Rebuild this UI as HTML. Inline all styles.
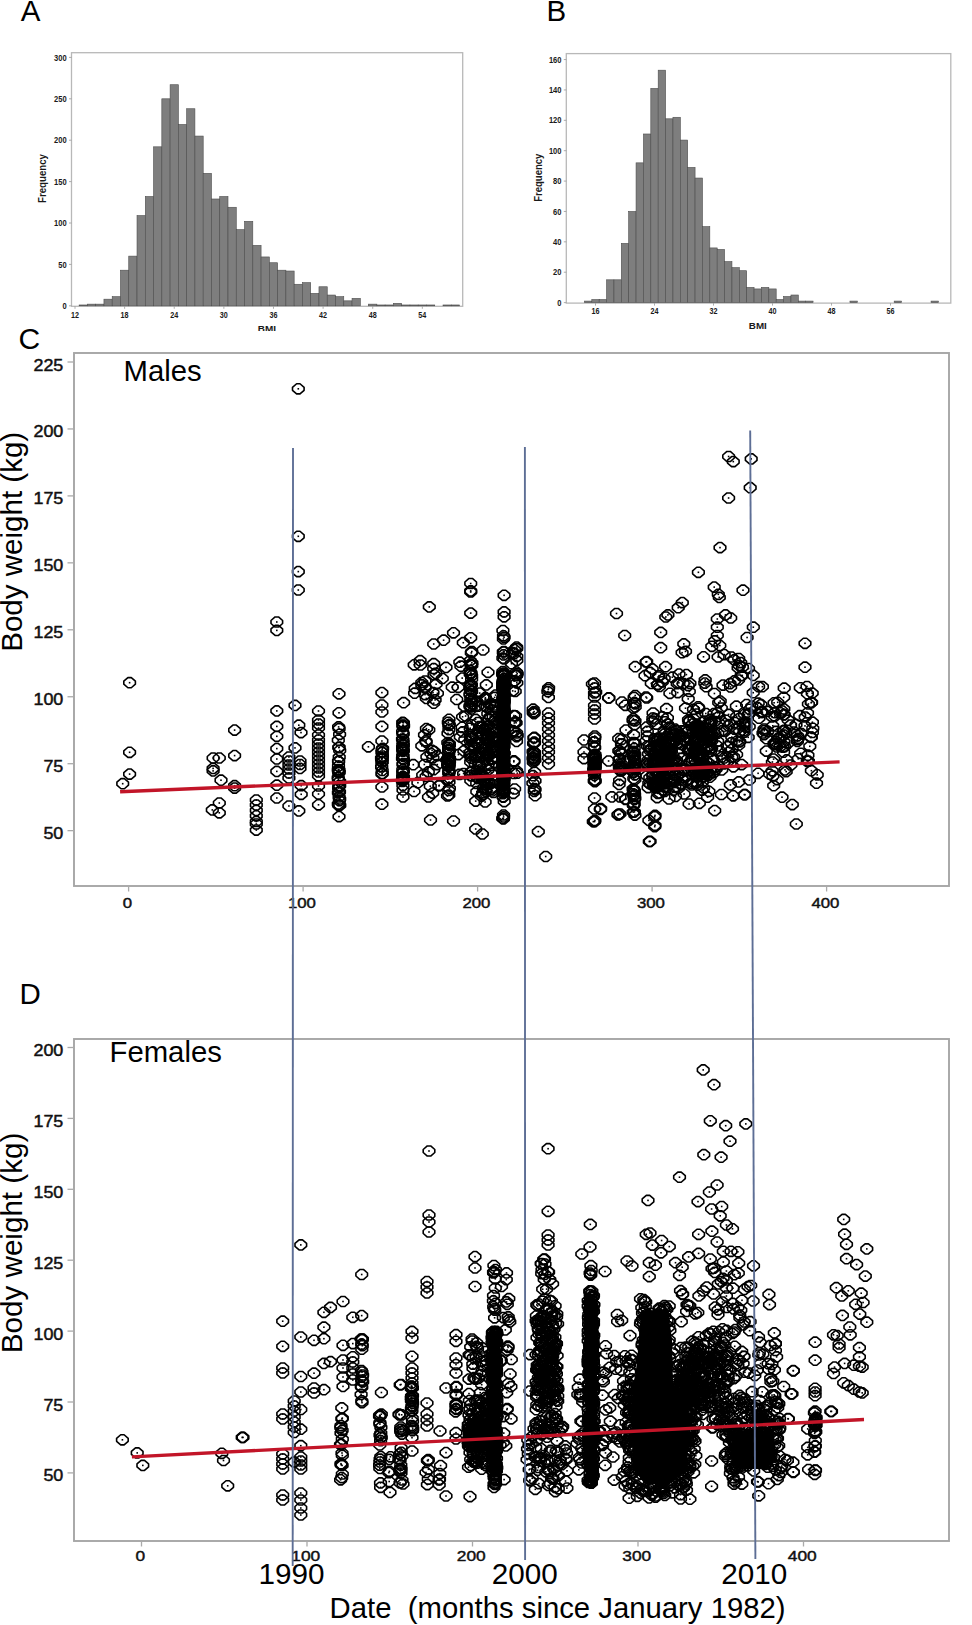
<!DOCTYPE html>
<html><head><meta charset="utf-8"><style>
html,body{margin:0;padding:0;background:#fff;}
body{width:972px;height:1625px;overflow:hidden;}
svg{display:block;font-family:"Liberation Sans", sans-serif;}
</style></head><body>
<svg width="972" height="1625" viewBox="0 0 972 1625">
<defs><marker id="mk" markerUnits="userSpaceOnUse" markerWidth="20" markerHeight="20" refX="10" refY="10" overflow="visible">
<path d="M8.3,4.95 L11.7,4.95 L15.8,8.5 L15.8,11.5 L11.7,15.05 L8.3,15.05 L4.2,11.5 L4.2,8.5Z" fill="none" stroke="#000" stroke-width="1.6" stroke-linejoin="round"/>
<rect x="9.2" y="9.2" width="1.6" height="1.6" fill="#000"/>
</marker><clipPath id="clipA"><rect x="0" y="0" width="486" height="331"/></clipPath></defs>
<rect x="71.5" y="52.7" width="391.2" height="253.60000000000002" fill="#fff" stroke="#b8b8b8" stroke-width="1.3"/>
<rect x="79.13" y="304.97" width="8.27" height="0.83" fill="#7e7e7e" stroke="#4d4d4d" stroke-width="0.6"/>
<rect x="87.40" y="304.14" width="8.27" height="1.66" fill="#7e7e7e" stroke="#4d4d4d" stroke-width="0.6"/>
<rect x="95.68" y="304.14" width="8.27" height="1.66" fill="#7e7e7e" stroke="#4d4d4d" stroke-width="0.6"/>
<rect x="103.94" y="299.18" width="8.27" height="6.62" fill="#7e7e7e" stroke="#4d4d4d" stroke-width="0.6"/>
<rect x="112.21" y="296.69" width="8.27" height="9.11" fill="#7e7e7e" stroke="#4d4d4d" stroke-width="0.6"/>
<rect x="120.49" y="270.20" width="8.27" height="35.60" fill="#7e7e7e" stroke="#4d4d4d" stroke-width="0.6"/>
<rect x="128.75" y="256.12" width="8.27" height="49.68" fill="#7e7e7e" stroke="#4d4d4d" stroke-width="0.6"/>
<rect x="137.02" y="215.55" width="8.27" height="90.25" fill="#7e7e7e" stroke="#4d4d4d" stroke-width="0.6"/>
<rect x="145.30" y="196.50" width="8.27" height="109.30" fill="#7e7e7e" stroke="#4d4d4d" stroke-width="0.6"/>
<rect x="153.56" y="146.82" width="8.27" height="158.98" fill="#7e7e7e" stroke="#4d4d4d" stroke-width="0.6"/>
<rect x="161.83" y="98.80" width="8.27" height="207.00" fill="#7e7e7e" stroke="#4d4d4d" stroke-width="0.6"/>
<rect x="170.11" y="84.72" width="8.27" height="221.08" fill="#7e7e7e" stroke="#4d4d4d" stroke-width="0.6"/>
<rect x="178.38" y="124.47" width="8.27" height="181.33" fill="#7e7e7e" stroke="#4d4d4d" stroke-width="0.6"/>
<rect x="186.64" y="108.74" width="8.27" height="197.06" fill="#7e7e7e" stroke="#4d4d4d" stroke-width="0.6"/>
<rect x="194.92" y="136.06" width="8.27" height="169.74" fill="#7e7e7e" stroke="#4d4d4d" stroke-width="0.6"/>
<rect x="203.19" y="173.32" width="8.27" height="132.48" fill="#7e7e7e" stroke="#4d4d4d" stroke-width="0.6"/>
<rect x="211.46" y="198.99" width="8.27" height="106.81" fill="#7e7e7e" stroke="#4d4d4d" stroke-width="0.6"/>
<rect x="219.72" y="196.50" width="8.27" height="109.30" fill="#7e7e7e" stroke="#4d4d4d" stroke-width="0.6"/>
<rect x="228.00" y="207.27" width="8.27" height="98.53" fill="#7e7e7e" stroke="#4d4d4d" stroke-width="0.6"/>
<rect x="236.26" y="229.62" width="8.27" height="76.18" fill="#7e7e7e" stroke="#4d4d4d" stroke-width="0.6"/>
<rect x="244.53" y="221.34" width="8.27" height="84.46" fill="#7e7e7e" stroke="#4d4d4d" stroke-width="0.6"/>
<rect x="252.81" y="245.36" width="8.27" height="60.44" fill="#7e7e7e" stroke="#4d4d4d" stroke-width="0.6"/>
<rect x="261.07" y="256.95" width="8.27" height="48.85" fill="#7e7e7e" stroke="#4d4d4d" stroke-width="0.6"/>
<rect x="269.35" y="262.74" width="8.27" height="43.06" fill="#7e7e7e" stroke="#4d4d4d" stroke-width="0.6"/>
<rect x="277.62" y="270.20" width="8.27" height="35.60" fill="#7e7e7e" stroke="#4d4d4d" stroke-width="0.6"/>
<rect x="285.88" y="271.02" width="8.27" height="34.78" fill="#7e7e7e" stroke="#4d4d4d" stroke-width="0.6"/>
<rect x="294.15" y="284.27" width="8.27" height="21.53" fill="#7e7e7e" stroke="#4d4d4d" stroke-width="0.6"/>
<rect x="302.43" y="282.62" width="8.27" height="23.18" fill="#7e7e7e" stroke="#4d4d4d" stroke-width="0.6"/>
<rect x="310.69" y="293.38" width="8.27" height="12.42" fill="#7e7e7e" stroke="#4d4d4d" stroke-width="0.6"/>
<rect x="318.97" y="286.76" width="8.27" height="19.04" fill="#7e7e7e" stroke="#4d4d4d" stroke-width="0.6"/>
<rect x="327.24" y="295.04" width="8.27" height="10.76" fill="#7e7e7e" stroke="#4d4d4d" stroke-width="0.6"/>
<rect x="335.50" y="296.69" width="8.27" height="9.11" fill="#7e7e7e" stroke="#4d4d4d" stroke-width="0.6"/>
<rect x="343.77" y="300.83" width="8.27" height="4.97" fill="#7e7e7e" stroke="#4d4d4d" stroke-width="0.6"/>
<rect x="352.05" y="298.35" width="8.27" height="7.45" fill="#7e7e7e" stroke="#4d4d4d" stroke-width="0.6"/>
<rect x="368.58" y="304.14" width="8.27" height="1.66" fill="#7e7e7e" stroke="#4d4d4d" stroke-width="0.6"/>
<rect x="376.86" y="304.97" width="8.27" height="0.83" fill="#7e7e7e" stroke="#4d4d4d" stroke-width="0.6"/>
<rect x="385.12" y="304.97" width="8.27" height="0.83" fill="#7e7e7e" stroke="#4d4d4d" stroke-width="0.6"/>
<rect x="393.39" y="303.32" width="8.27" height="2.48" fill="#7e7e7e" stroke="#4d4d4d" stroke-width="0.6"/>
<rect x="401.66" y="304.97" width="8.27" height="0.83" fill="#7e7e7e" stroke="#4d4d4d" stroke-width="0.6"/>
<rect x="409.94" y="304.97" width="8.27" height="0.83" fill="#7e7e7e" stroke="#4d4d4d" stroke-width="0.6"/>
<rect x="418.20" y="304.97" width="8.27" height="0.83" fill="#7e7e7e" stroke="#4d4d4d" stroke-width="0.6"/>
<rect x="426.47" y="304.97" width="8.27" height="0.83" fill="#7e7e7e" stroke="#4d4d4d" stroke-width="0.6"/>
<rect x="443.01" y="304.97" width="8.27" height="0.83" fill="#7e7e7e" stroke="#4d4d4d" stroke-width="0.6"/>
<rect x="451.28" y="304.97" width="8.27" height="0.83" fill="#7e7e7e" stroke="#4d4d4d" stroke-width="0.6"/>
<line x1="69.0" y1="305.80" x2="71.5" y2="305.80" stroke="#999" stroke-width="0.8"/>
<text x="66.7" y="308.90000000000003" font-size="8.4" text-anchor="end" font-weight="bold" fill="#1a1a1a" textLength="4.2" lengthAdjust="spacingAndGlyphs">0</text>
<line x1="69.0" y1="264.40" x2="71.5" y2="264.40" stroke="#999" stroke-width="0.8"/>
<text x="66.7" y="267.50000000000006" font-size="8.4" text-anchor="end" font-weight="bold" fill="#1a1a1a" textLength="8.4" lengthAdjust="spacingAndGlyphs">50</text>
<line x1="69.0" y1="223.00" x2="71.5" y2="223.00" stroke="#999" stroke-width="0.8"/>
<text x="66.7" y="226.1" font-size="8.4" text-anchor="end" font-weight="bold" fill="#1a1a1a" textLength="12.6" lengthAdjust="spacingAndGlyphs">100</text>
<line x1="69.0" y1="181.60" x2="71.5" y2="181.60" stroke="#999" stroke-width="0.8"/>
<text x="66.7" y="184.70000000000002" font-size="8.4" text-anchor="end" font-weight="bold" fill="#1a1a1a" textLength="12.6" lengthAdjust="spacingAndGlyphs">150</text>
<line x1="69.0" y1="140.20" x2="71.5" y2="140.20" stroke="#999" stroke-width="0.8"/>
<text x="66.7" y="143.3" font-size="8.4" text-anchor="end" font-weight="bold" fill="#1a1a1a" textLength="12.6" lengthAdjust="spacingAndGlyphs">200</text>
<line x1="69.0" y1="98.80" x2="71.5" y2="98.80" stroke="#999" stroke-width="0.8"/>
<text x="66.7" y="101.9" font-size="8.4" text-anchor="end" font-weight="bold" fill="#1a1a1a" textLength="12.6" lengthAdjust="spacingAndGlyphs">250</text>
<line x1="69.0" y1="57.40" x2="71.5" y2="57.40" stroke="#999" stroke-width="0.8"/>
<text x="66.7" y="60.500000000000036" font-size="8.4" text-anchor="end" font-weight="bold" fill="#1a1a1a" textLength="12.6" lengthAdjust="spacingAndGlyphs">300</text>
<line x1="75.00" y1="306.3" x2="75.00" y2="308.8" stroke="#999" stroke-width="0.8"/>
<text x="75.0" y="317.5" font-size="8.4" text-anchor="middle" font-weight="bold" fill="#1a1a1a" textLength="8.0" lengthAdjust="spacingAndGlyphs">12</text>
<line x1="124.62" y1="306.3" x2="124.62" y2="308.8" stroke="#999" stroke-width="0.8"/>
<text x="124.62" y="317.5" font-size="8.4" text-anchor="middle" font-weight="bold" fill="#1a1a1a" textLength="8.0" lengthAdjust="spacingAndGlyphs">18</text>
<line x1="174.24" y1="306.3" x2="174.24" y2="308.8" stroke="#999" stroke-width="0.8"/>
<text x="174.24" y="317.5" font-size="8.4" text-anchor="middle" font-weight="bold" fill="#1a1a1a" textLength="8.0" lengthAdjust="spacingAndGlyphs">24</text>
<line x1="223.86" y1="306.3" x2="223.86" y2="308.8" stroke="#999" stroke-width="0.8"/>
<text x="223.85999999999999" y="317.5" font-size="8.4" text-anchor="middle" font-weight="bold" fill="#1a1a1a" textLength="8.0" lengthAdjust="spacingAndGlyphs">30</text>
<line x1="273.48" y1="306.3" x2="273.48" y2="308.8" stroke="#999" stroke-width="0.8"/>
<text x="273.48" y="317.5" font-size="8.4" text-anchor="middle" font-weight="bold" fill="#1a1a1a" textLength="8.0" lengthAdjust="spacingAndGlyphs">36</text>
<line x1="323.10" y1="306.3" x2="323.10" y2="308.8" stroke="#999" stroke-width="0.8"/>
<text x="323.1" y="317.5" font-size="8.4" text-anchor="middle" font-weight="bold" fill="#1a1a1a" textLength="8.0" lengthAdjust="spacingAndGlyphs">42</text>
<line x1="372.72" y1="306.3" x2="372.72" y2="308.8" stroke="#999" stroke-width="0.8"/>
<text x="372.71999999999997" y="317.5" font-size="8.4" text-anchor="middle" font-weight="bold" fill="#1a1a1a" textLength="8.0" lengthAdjust="spacingAndGlyphs">48</text>
<line x1="422.34" y1="306.3" x2="422.34" y2="308.8" stroke="#999" stroke-width="0.8"/>
<text x="422.34" y="317.5" font-size="8.4" text-anchor="middle" font-weight="bold" fill="#1a1a1a" textLength="8.0" lengthAdjust="spacingAndGlyphs">54</text>
<rect x="566.3" y="53.6" width="384.5" height="249.50000000000003" fill="#fff" stroke="#b8b8b8" stroke-width="1.3"/>
<rect x="584.44" y="301.08" width="7.38" height="1.52" fill="#7e7e7e" stroke="#4d4d4d" stroke-width="0.6"/>
<rect x="591.81" y="299.56" width="7.38" height="3.04" fill="#7e7e7e" stroke="#4d4d4d" stroke-width="0.6"/>
<rect x="599.19" y="299.56" width="7.38" height="3.04" fill="#7e7e7e" stroke="#4d4d4d" stroke-width="0.6"/>
<rect x="606.56" y="279.81" width="7.38" height="22.79" fill="#7e7e7e" stroke="#4d4d4d" stroke-width="0.6"/>
<rect x="613.94" y="279.81" width="7.38" height="22.79" fill="#7e7e7e" stroke="#4d4d4d" stroke-width="0.6"/>
<rect x="621.31" y="243.36" width="7.38" height="59.24" fill="#7e7e7e" stroke="#4d4d4d" stroke-width="0.6"/>
<rect x="628.69" y="211.46" width="7.38" height="91.14" fill="#7e7e7e" stroke="#4d4d4d" stroke-width="0.6"/>
<rect x="636.06" y="162.85" width="7.38" height="139.75" fill="#7e7e7e" stroke="#4d4d4d" stroke-width="0.6"/>
<rect x="643.44" y="133.99" width="7.38" height="168.61" fill="#7e7e7e" stroke="#4d4d4d" stroke-width="0.6"/>
<rect x="650.81" y="88.42" width="7.38" height="214.18" fill="#7e7e7e" stroke="#4d4d4d" stroke-width="0.6"/>
<rect x="658.19" y="70.19" width="7.38" height="232.41" fill="#7e7e7e" stroke="#4d4d4d" stroke-width="0.6"/>
<rect x="665.56" y="118.80" width="7.38" height="183.80" fill="#7e7e7e" stroke="#4d4d4d" stroke-width="0.6"/>
<rect x="672.94" y="117.28" width="7.38" height="185.32" fill="#7e7e7e" stroke="#4d4d4d" stroke-width="0.6"/>
<rect x="680.31" y="140.07" width="7.38" height="162.53" fill="#7e7e7e" stroke="#4d4d4d" stroke-width="0.6"/>
<rect x="687.69" y="167.41" width="7.38" height="135.19" fill="#7e7e7e" stroke="#4d4d4d" stroke-width="0.6"/>
<rect x="695.06" y="178.04" width="7.38" height="124.56" fill="#7e7e7e" stroke="#4d4d4d" stroke-width="0.6"/>
<rect x="702.44" y="226.65" width="7.38" height="75.95" fill="#7e7e7e" stroke="#4d4d4d" stroke-width="0.6"/>
<rect x="709.81" y="247.92" width="7.38" height="54.68" fill="#7e7e7e" stroke="#4d4d4d" stroke-width="0.6"/>
<rect x="717.19" y="249.44" width="7.38" height="53.16" fill="#7e7e7e" stroke="#4d4d4d" stroke-width="0.6"/>
<rect x="724.56" y="261.59" width="7.38" height="41.01" fill="#7e7e7e" stroke="#4d4d4d" stroke-width="0.6"/>
<rect x="731.94" y="267.66" width="7.38" height="34.94" fill="#7e7e7e" stroke="#4d4d4d" stroke-width="0.6"/>
<rect x="739.31" y="270.70" width="7.38" height="31.90" fill="#7e7e7e" stroke="#4d4d4d" stroke-width="0.6"/>
<rect x="746.69" y="287.41" width="7.38" height="15.19" fill="#7e7e7e" stroke="#4d4d4d" stroke-width="0.6"/>
<rect x="754.06" y="288.93" width="7.38" height="13.67" fill="#7e7e7e" stroke="#4d4d4d" stroke-width="0.6"/>
<rect x="761.44" y="287.41" width="7.38" height="15.19" fill="#7e7e7e" stroke="#4d4d4d" stroke-width="0.6"/>
<rect x="768.81" y="288.93" width="7.38" height="13.67" fill="#7e7e7e" stroke="#4d4d4d" stroke-width="0.6"/>
<rect x="776.19" y="299.56" width="7.38" height="3.04" fill="#7e7e7e" stroke="#4d4d4d" stroke-width="0.6"/>
<rect x="783.56" y="296.52" width="7.38" height="6.08" fill="#7e7e7e" stroke="#4d4d4d" stroke-width="0.6"/>
<rect x="790.94" y="295.00" width="7.38" height="7.59" fill="#7e7e7e" stroke="#4d4d4d" stroke-width="0.6"/>
<rect x="798.31" y="301.08" width="7.38" height="1.52" fill="#7e7e7e" stroke="#4d4d4d" stroke-width="0.6"/>
<rect x="805.69" y="301.08" width="7.38" height="1.52" fill="#7e7e7e" stroke="#4d4d4d" stroke-width="0.6"/>
<rect x="849.94" y="301.08" width="7.38" height="1.52" fill="#7e7e7e" stroke="#4d4d4d" stroke-width="0.6"/>
<rect x="894.19" y="301.08" width="7.38" height="1.52" fill="#7e7e7e" stroke="#4d4d4d" stroke-width="0.6"/>
<rect x="931.06" y="301.08" width="7.38" height="1.52" fill="#7e7e7e" stroke="#4d4d4d" stroke-width="0.6"/>
<line x1="563.8" y1="302.60" x2="566.3" y2="302.60" stroke="#999" stroke-width="0.8"/>
<text x="561.5" y="305.70000000000005" font-size="8.4" text-anchor="end" font-weight="bold" fill="#1a1a1a" textLength="4.2" lengthAdjust="spacingAndGlyphs">0</text>
<line x1="563.8" y1="272.22" x2="566.3" y2="272.22" stroke="#999" stroke-width="0.8"/>
<text x="561.5" y="275.32000000000005" font-size="8.4" text-anchor="end" font-weight="bold" fill="#1a1a1a" textLength="8.4" lengthAdjust="spacingAndGlyphs">20</text>
<line x1="563.8" y1="241.84" x2="566.3" y2="241.84" stroke="#999" stroke-width="0.8"/>
<text x="561.5" y="244.94000000000003" font-size="8.4" text-anchor="end" font-weight="bold" fill="#1a1a1a" textLength="8.4" lengthAdjust="spacingAndGlyphs">40</text>
<line x1="563.8" y1="211.46" x2="566.3" y2="211.46" stroke="#999" stroke-width="0.8"/>
<text x="561.5" y="214.56000000000003" font-size="8.4" text-anchor="end" font-weight="bold" fill="#1a1a1a" textLength="8.4" lengthAdjust="spacingAndGlyphs">60</text>
<line x1="563.8" y1="181.08" x2="566.3" y2="181.08" stroke="#999" stroke-width="0.8"/>
<text x="561.5" y="184.18000000000004" font-size="8.4" text-anchor="end" font-weight="bold" fill="#1a1a1a" textLength="8.4" lengthAdjust="spacingAndGlyphs">80</text>
<line x1="563.8" y1="150.70" x2="566.3" y2="150.70" stroke="#999" stroke-width="0.8"/>
<text x="561.5" y="153.80000000000004" font-size="8.4" text-anchor="end" font-weight="bold" fill="#1a1a1a" textLength="12.6" lengthAdjust="spacingAndGlyphs">100</text>
<line x1="563.8" y1="120.32" x2="566.3" y2="120.32" stroke="#999" stroke-width="0.8"/>
<text x="561.5" y="123.42000000000002" font-size="8.4" text-anchor="end" font-weight="bold" fill="#1a1a1a" textLength="12.6" lengthAdjust="spacingAndGlyphs">120</text>
<line x1="563.8" y1="89.94" x2="566.3" y2="89.94" stroke="#999" stroke-width="0.8"/>
<text x="561.5" y="93.04000000000002" font-size="8.4" text-anchor="end" font-weight="bold" fill="#1a1a1a" textLength="12.6" lengthAdjust="spacingAndGlyphs">140</text>
<line x1="563.8" y1="59.56" x2="566.3" y2="59.56" stroke="#999" stroke-width="0.8"/>
<text x="561.5" y="62.66000000000003" font-size="8.4" text-anchor="end" font-weight="bold" fill="#1a1a1a" textLength="12.6" lengthAdjust="spacingAndGlyphs">160</text>
<line x1="595.50" y1="303.1" x2="595.50" y2="305.6" stroke="#999" stroke-width="0.8"/>
<text x="595.5" y="314.3" font-size="8.4" text-anchor="middle" font-weight="bold" fill="#1a1a1a" textLength="8.0" lengthAdjust="spacingAndGlyphs">16</text>
<line x1="654.50" y1="303.1" x2="654.50" y2="305.6" stroke="#999" stroke-width="0.8"/>
<text x="654.5" y="314.3" font-size="8.4" text-anchor="middle" font-weight="bold" fill="#1a1a1a" textLength="8.0" lengthAdjust="spacingAndGlyphs">24</text>
<line x1="713.50" y1="303.1" x2="713.50" y2="305.6" stroke="#999" stroke-width="0.8"/>
<text x="713.5" y="314.3" font-size="8.4" text-anchor="middle" font-weight="bold" fill="#1a1a1a" textLength="8.0" lengthAdjust="spacingAndGlyphs">32</text>
<line x1="772.50" y1="303.1" x2="772.50" y2="305.6" stroke="#999" stroke-width="0.8"/>
<text x="772.5" y="314.3" font-size="8.4" text-anchor="middle" font-weight="bold" fill="#1a1a1a" textLength="8.0" lengthAdjust="spacingAndGlyphs">40</text>
<line x1="831.50" y1="303.1" x2="831.50" y2="305.6" stroke="#999" stroke-width="0.8"/>
<text x="831.5" y="314.3" font-size="8.4" text-anchor="middle" font-weight="bold" fill="#1a1a1a" textLength="8.0" lengthAdjust="spacingAndGlyphs">48</text>
<line x1="890.50" y1="303.1" x2="890.50" y2="305.6" stroke="#999" stroke-width="0.8"/>
<text x="890.5" y="314.3" font-size="8.4" text-anchor="middle" font-weight="bold" fill="#1a1a1a" textLength="8.0" lengthAdjust="spacingAndGlyphs">56</text>
<text x="0" y="0" font-size="10.2" text-anchor="middle" font-weight="bold" fill="#1a1a1a" transform="translate(45.9,178.5) rotate(-90)" textLength="49" lengthAdjust="spacingAndGlyphs">Frequency</text>
<text x="0" y="0" font-size="10.2" text-anchor="middle" font-weight="bold" fill="#1a1a1a" transform="translate(542.2,177.7) rotate(-90)" textLength="48" lengthAdjust="spacingAndGlyphs">Frequency</text>
<text x="757.8" y="328.8" font-size="8.5" text-anchor="middle" font-weight="bold" fill="#1a1a1a" textLength="18" lengthAdjust="spacingAndGlyphs">BMI</text>
<text x="266.9" y="331.6" font-size="8.5" text-anchor="middle" font-weight="bold" fill="#1a1a1a" textLength="18.3" lengthAdjust="spacingAndGlyphs" clip-path="url(#clipA)">BMI</text>
<rect x="74" y="353" width="875" height="533" fill="#fff" stroke="#a6a6a6" stroke-width="1.9"/>
<line x1="67.5" y1="830.65" x2="74" y2="830.65" stroke="#aaa" stroke-width="1.3"/>
<text transform="translate(63.3,839.15) scale(1.12,1)" font-size="16" text-anchor="end" fill="#111" stroke="#111" stroke-width="0.45">50</text>
<line x1="67.5" y1="763.70" x2="74" y2="763.70" stroke="#aaa" stroke-width="1.3"/>
<text transform="translate(63.3,772.20) scale(1.12,1)" font-size="16" text-anchor="end" fill="#111" stroke="#111" stroke-width="0.45">75</text>
<line x1="67.5" y1="696.75" x2="74" y2="696.75" stroke="#aaa" stroke-width="1.3"/>
<text transform="translate(63.3,705.25) scale(1.12,1)" font-size="16" text-anchor="end" fill="#111" stroke="#111" stroke-width="0.45">100</text>
<line x1="67.5" y1="629.80" x2="74" y2="629.80" stroke="#aaa" stroke-width="1.3"/>
<text transform="translate(63.3,638.30) scale(1.12,1)" font-size="16" text-anchor="end" fill="#111" stroke="#111" stroke-width="0.45">125</text>
<line x1="67.5" y1="562.85" x2="74" y2="562.85" stroke="#aaa" stroke-width="1.3"/>
<text transform="translate(63.3,571.35) scale(1.12,1)" font-size="16" text-anchor="end" fill="#111" stroke="#111" stroke-width="0.45">150</text>
<line x1="67.5" y1="495.90" x2="74" y2="495.90" stroke="#aaa" stroke-width="1.3"/>
<text transform="translate(63.3,504.40) scale(1.12,1)" font-size="16" text-anchor="end" fill="#111" stroke="#111" stroke-width="0.45">175</text>
<line x1="67.5" y1="428.95" x2="74" y2="428.95" stroke="#aaa" stroke-width="1.3"/>
<text transform="translate(63.3,437.45) scale(1.12,1)" font-size="16" text-anchor="end" fill="#111" stroke="#111" stroke-width="0.45">200</text>
<line x1="67.5" y1="362.00" x2="74" y2="362.00" stroke="#aaa" stroke-width="1.3"/>
<text transform="translate(63.3,370.50) scale(1.12,1)" font-size="16" text-anchor="end" fill="#111" stroke="#111" stroke-width="0.45">225</text>
<line x1="128.60" y1="886" x2="128.60" y2="891.5" stroke="#aaa" stroke-width="1.3"/>
<text transform="translate(127.40,907.8) scale(1.12,1)" font-size="15" text-anchor="middle" fill="#111" stroke="#111" stroke-width="0.45">0</text>
<line x1="303.10" y1="886" x2="303.10" y2="891.5" stroke="#aaa" stroke-width="1.3"/>
<text transform="translate(301.90,907.8) scale(1.12,1)" font-size="15" text-anchor="middle" fill="#111" stroke="#111" stroke-width="0.45">100</text>
<line x1="477.60" y1="886" x2="477.60" y2="891.5" stroke="#aaa" stroke-width="1.3"/>
<text transform="translate(476.40,907.8) scale(1.12,1)" font-size="15" text-anchor="middle" fill="#111" stroke="#111" stroke-width="0.45">200</text>
<line x1="652.10" y1="886" x2="652.10" y2="891.5" stroke="#aaa" stroke-width="1.3"/>
<text transform="translate(650.90,907.8) scale(1.12,1)" font-size="15" text-anchor="middle" fill="#111" stroke="#111" stroke-width="0.45">300</text>
<line x1="826.60" y1="886" x2="826.60" y2="891.5" stroke="#aaa" stroke-width="1.3"/>
<text transform="translate(825.40,907.8) scale(1.12,1)" font-size="15" text-anchor="middle" fill="#111" stroke="#111" stroke-width="0.45">400</text>
<rect x="74" y="1039" width="875" height="502" fill="#fff" stroke="#a6a6a6" stroke-width="1.9"/>
<line x1="67.5" y1="1472.90" x2="74" y2="1472.90" stroke="#aaa" stroke-width="1.3"/>
<text transform="translate(63.3,1481.40) scale(1.12,1)" font-size="16" text-anchor="end" fill="#111" stroke="#111" stroke-width="0.45">50</text>
<line x1="67.5" y1="1402.00" x2="74" y2="1402.00" stroke="#aaa" stroke-width="1.3"/>
<text transform="translate(63.3,1410.50) scale(1.12,1)" font-size="16" text-anchor="end" fill="#111" stroke="#111" stroke-width="0.45">75</text>
<line x1="67.5" y1="1331.10" x2="74" y2="1331.10" stroke="#aaa" stroke-width="1.3"/>
<text transform="translate(63.3,1339.60) scale(1.12,1)" font-size="16" text-anchor="end" fill="#111" stroke="#111" stroke-width="0.45">100</text>
<line x1="67.5" y1="1260.20" x2="74" y2="1260.20" stroke="#aaa" stroke-width="1.3"/>
<text transform="translate(63.3,1268.70) scale(1.12,1)" font-size="16" text-anchor="end" fill="#111" stroke="#111" stroke-width="0.45">125</text>
<line x1="67.5" y1="1189.30" x2="74" y2="1189.30" stroke="#aaa" stroke-width="1.3"/>
<text transform="translate(63.3,1197.80) scale(1.12,1)" font-size="16" text-anchor="end" fill="#111" stroke="#111" stroke-width="0.45">150</text>
<line x1="67.5" y1="1118.40" x2="74" y2="1118.40" stroke="#aaa" stroke-width="1.3"/>
<text transform="translate(63.3,1126.90) scale(1.12,1)" font-size="16" text-anchor="end" fill="#111" stroke="#111" stroke-width="0.45">175</text>
<line x1="67.5" y1="1047.50" x2="74" y2="1047.50" stroke="#aaa" stroke-width="1.3"/>
<text transform="translate(63.3,1056.00) scale(1.12,1)" font-size="16" text-anchor="end" fill="#111" stroke="#111" stroke-width="0.45">200</text>
<line x1="141.50" y1="1541" x2="141.50" y2="1546.5" stroke="#aaa" stroke-width="1.3"/>
<text transform="translate(140.30,1560.8) scale(1.12,1)" font-size="15.5" text-anchor="middle" fill="#111" stroke="#111" stroke-width="0.45">0</text>
<line x1="307.00" y1="1541" x2="307.00" y2="1546.5" stroke="#aaa" stroke-width="1.3"/>
<text transform="translate(305.80,1560.8) scale(1.12,1)" font-size="15.5" text-anchor="middle" fill="#111" stroke="#111" stroke-width="0.45">100</text>
<line x1="472.50" y1="1541" x2="472.50" y2="1546.5" stroke="#aaa" stroke-width="1.3"/>
<text transform="translate(471.30,1560.8) scale(1.12,1)" font-size="15.5" text-anchor="middle" fill="#111" stroke="#111" stroke-width="0.45">200</text>
<line x1="638.00" y1="1541" x2="638.00" y2="1546.5" stroke="#aaa" stroke-width="1.3"/>
<text transform="translate(636.80,1560.8) scale(1.12,1)" font-size="15.5" text-anchor="middle" fill="#111" stroke="#111" stroke-width="0.45">300</text>
<line x1="803.50" y1="1541" x2="803.50" y2="1546.5" stroke="#aaa" stroke-width="1.3"/>
<text transform="translate(802.30,1560.8) scale(1.12,1)" font-size="15.5" text-anchor="middle" fill="#111" stroke="#111" stroke-width="0.45">400</text>
<rect x="498" y="676" width="11" height="114" rx="4" fill="#000"/>
<rect x="586" y="1298" width="11" height="184" rx="4" fill="#000"/>
<rect x="489" y="1333" width="11" height="135" rx="4" fill="#000"/>
<path d="M642,1312 L667,1310 L671,1340 L672,1385 L685,1396 L688,1430 L686,1470 L668,1484 L645,1483 L634,1468 L632,1420 L635,1390 L639,1350Z" fill="#000" stroke="#000" stroke-width="2" stroke-linejoin="round"/>
<path d="M733,1434 L752,1429 L773,1434 L775,1457 L767,1468 L739,1468 L731,1457Z" fill="#000" stroke="#000" stroke-width="2" stroke-linejoin="round"/>
<path d="M129.6 682.7M129.6 752.3M129.6 774.1M122.7 783.7M213.1 758.0M219.3 758.0M213.1 768.4M213.1 770.9M221.0 780.2M234.6 730.1M234.6 755.6M234.6 785.7M234.6 788.1M219.3 803.0M212.3 809.9M219.3 812.8M256.3 800.0M256.3 805.0M256.3 810.4M256.3 815.8M256.3 821.5M256.3 824.0M256.3 830.1M276.8 622.0M276.8 630.4M276.8 710.9M276.8 726.4M276.8 736.3M276.8 748.6M276.8 759.0M276.8 771.4M276.8 785.2M276.8 798.0M298.3 388.8M298.3 536.3M298.3 571.6M298.3 590.0M295.0 705.4M295.0 747.9M298.8 725.2M301.0 732.6M288.9 757.0M288.9 761.0M288.9 765.0M288.9 769.0M288.9 773.0M288.9 778.0M300.0 761.0M300.0 764.5M300.0 768.4M288.9 806.0M298.8 810.9M301.2 785.7M301.2 794.3M318.5 711.0M318.5 720.0M318.5 724.0M318.5 728.0M318.5 735.0M318.5 740.0M318.5 744.0M318.5 748.0M318.5 752.0M318.5 756.0M318.5 760.0M318.5 764.0M318.5 768.0M318.5 772.0M318.5 776.0M318.5 786.0M318.5 794.0M318.5 804.8M339.0 693.8M339.0 712.8M338.6 761.6M338.8 747.6M338.7 786.2M339.7 799.0M339.2 757.2M338.7 805.5M339.7 781.4M339.6 734.3M339.4 800.7M338.2 777.5M338.7 772.8M338.4 779.3M338.5 766.1M339.5 791.8M339.1 728.7M339.2 772.1M338.3 769.7M338.6 788.0M339.0 769.9M338.5 761.1M338.5 771.2M338.3 740.2M339.7 785.6M339.1 796.9M339.7 750.5M339.8 805.3M338.4 792.7M338.3 804.1M339.1 747.2M338.6 726.9M339.0 816.6M368.4 746.8M381.9 692.6M381.9 705.0M381.9 712.0M381.9 726.4M381.9 741.0M381.9 787.0M381.9 804.2M382.2 770.5M382.1 758.8M382.1 761.9M381.7 759.2M381.6 767.0M382.1 758.0M382.0 762.2M382.1 749.5M382.4 756.0M382.0 774.1M382.2 752.2M381.6 766.5M382.2 773.4M382.6 748.4M381.5 758.0M382.1 752.4M403.6 702.7M403.0 790.0M403.0 797.0M402.8 780.9M402.7 748.7M403.5 759.5M403.1 726.6M403.6 725.7M402.5 781.4M403.1 734.1M402.6 777.4M403.1 751.1M403.1 756.1M403.3 745.4M402.4 780.4M402.6 731.7M403.0 744.5M402.7 772.7M403.4 763.5M403.0 725.2M402.5 739.0M403.4 722.8M403.1 725.5M402.5 758.6M403.2 780.0M403.0 733.5M403.0 778.8M403.1 742.3M402.6 776.7M403.5 776.9M402.7 779.4M402.9 764.3M402.7 777.8M402.9 785.5M403.0 739.9M402.7 722.4M402.7 755.5M402.6 747.3M402.9 749.9M402.8 769.7M402.6 747.8M403.4 771.3M403.2 750.6M429.3 606.9M433.7 644.0M443.6 640.2M420.1 660.7M433.7 663.7M433.7 668.6M446.0 667.4M425.0 681.0M425.0 688.0M442.3 678.5M415.2 688.4M425.0 694.6M437.4 693.3M433.7 703.2M430.5 820.0M453.5 821.0M475.7 829.0M482.3 834.0M452.2 687.2M460.9 666.2M488.0 672.3M483.0 650.0M453.5 632.8M463.3 642.7M514.0 681.0M512.7 652.6M511.5 663.7M512.7 690.9M414.2 664.8M420.4 665.0M433.0 692.6M434.0 674.7M421.8 682.5M421.8 684.9M435.8 673.4M425.1 686.9M436.1 684.2M435.1 699.9M426.3 698.4M414.6 693.2M421.8 745.8M432.1 750.4M425.8 740.8M422.7 775.0M413.3 764.7M426.4 728.6M437.3 764.6M428.5 797.0M426.2 742.1M428.8 729.8M426.9 756.8M432.7 793.1M432.9 757.8M430.9 753.5M439.0 785.9M424.3 764.5M430.3 786.2M439.2 785.3M417.9 782.7M426.1 776.4M414.0 791.5M437.1 755.6M434.3 751.6M433.7 769.7M428.3 771.9M424.5 734.9M448.9 760.3M448.8 770.0M449.5 761.4M448.2 766.4M447.5 759.2M448.6 750.4M449.3 761.9M448.6 747.4M449.4 744.9M449.1 765.5M449.0 744.4M448.8 772.7M449.1 764.0M449.1 771.7M447.9 758.6M449.4 744.9M449.3 743.7M447.6 764.5M448.2 758.5M447.8 742.7M448.9 766.2M449.3 750.5M449.5 758.1M448.8 758.7M448.9 749.5M448.8 753.1M448.0 733.4M448.9 729.6M448.3 722.3M448.8 725.4M449.3 724.7M449.0 719.3M448.7 790.5M449.4 788.3M448.8 773.1M447.8 779.2M449.0 782.0M448.8 795.1M447.5 796.0M449.0 777.7M462.6 731.9M460.3 736.9M463.9 750.9M465.6 716.0M462.2 678.1M462.6 716.8M458.2 687.3M459.4 774.4M462.1 727.3M459.8 662.2M464.8 739.7M464.4 706.4M456.7 699.5M463.6 773.6M458.4 754.6M470.7 583.5M470.7 590.9M470.7 592.0M470.7 613.1M470.7 637.8M470.3 686.9M470.0 670.3M471.8 703.8M471.6 691.7M471.1 664.5M471.8 651.5M470.1 694.8M471.3 652.9M470.1 684.7M470.9 701.4M471.0 673.5M471.2 709.0M470.8 706.8M471.9 701.2M470.1 693.8M470.8 698.3M470.4 689.4M470.2 660.7M471.6 675.9M470.2 674.1M470.1 705.6M471.2 691.1M471.2 665.1M470.9 672.7M471.0 685.4M471.8 665.4M471.4 684.7M470.1 706.7M471.6 679.2M471.9 662.8M470.9 745.5M471.3 754.7M471.4 775.5M471.6 724.8M470.5 734.8M470.2 728.2M470.6 736.5M470.6 775.7M471.0 758.3M470.5 741.0M471.5 771.3M470.6 772.6M470.8 780.7M470.7 762.2M471.4 738.7M470.8 738.6M470.6 751.8M470.2 755.7M493.8 741.4M495.6 695.1M495.1 749.9M494.6 762.3M476.8 791.7M493.4 746.3M492.8 758.7M479.7 757.0M494.1 738.2M495.1 706.4M493.5 737.9M488.8 719.2M477.9 755.0M481.1 773.5M495.4 757.0M496.0 711.8M481.9 727.2M483.9 780.4M491.6 730.6M490.5 743.2M483.8 748.4M494.6 697.4M480.6 776.3M486.5 726.4M485.4 697.7M485.1 699.1M479.7 693.1M476.0 756.2M479.1 764.4M477.8 722.5M487.3 753.5M486.1 784.8M483.7 730.4M495.1 704.9M477.9 778.5M492.1 744.3M478.2 744.2M488.8 782.5M479.5 726.5M475.7 719.4M475.9 743.1M483.4 735.2M485.8 789.1M492.3 790.9M486.3 684.9M487.8 713.7M482.8 792.9M491.5 709.9M484.1 776.6M474.9 748.0M481.2 774.7M476.4 701.2M488.8 725.4M482.4 763.3M488.0 764.7M491.1 783.4M481.7 776.0M489.1 719.1M487.4 738.8M478.0 706.2M494.3 756.4M481.4 796.1M487.9 753.1M488.8 735.8M478.8 765.2M486.3 782.2M485.6 790.9M482.3 752.5M495.8 729.2M490.6 727.3M495.6 749.8M479.8 752.7M476.7 783.5M478.2 730.9M486.8 747.6M476.0 757.1M485.7 699.1M482.9 779.8M474.4 746.3M475.2 764.0M491.4 752.2M484.5 780.7M480.8 773.3M485.0 730.6M491.3 789.4M481.1 774.2M487.6 737.3M491.6 787.9M476.0 775.9M491.3 773.0M485.2 706.0M482.9 794.8M492.6 750.5M494.4 751.7M492.1 759.3M493.4 792.5M481.9 735.0M495.9 722.7M487.4 756.0M490.9 765.5M492.3 738.5M487.1 734.0M475.9 735.1M477.0 771.2M482.2 733.7M483.2 780.7M478.7 732.9M476.9 777.1M475.7 801.1M495.5 741.9M485.1 802.0M489.3 783.8M490.7 734.2M475.4 757.2M492.5 737.1M478.7 762.2M486.9 707.4M480.0 747.8M488.9 755.8M483.5 787.8M475.7 706.3M490.2 716.6M493.1 716.9M491.6 703.9M494.1 733.0M485.7 740.0M476.8 742.7M484.6 759.7M475.6 755.4M483.4 746.5M491.8 748.4M489.5 704.4M493.5 775.3M487.9 770.1M495.3 719.9M504.1 706.2M503.4 778.6M503.2 707.3M503.0 681.8M503.9 720.8M504.0 738.0M504.1 722.5M503.7 775.7M503.7 714.0M503.6 784.9M503.5 761.3M503.1 779.7M504.0 770.5M503.5 778.3M503.5 736.6M503.4 741.2M503.6 708.6M504.0 694.4M503.5 788.6M502.9 686.8M504.2 680.7M503.0 756.5M503.1 766.5M503.8 766.0M503.2 742.9M503.3 717.3M502.9 735.8M503.2 692.0M503.8 765.3M504.0 700.5M503.3 745.2M503.3 770.7M502.7 718.3M503.7 743.2M503.4 734.8M503.7 722.1M503.3 777.1M503.4 769.7M502.7 790.0M503.8 714.8M503.4 687.7M503.1 683.5M503.1 761.8M503.8 753.6M503.6 715.8M503.9 778.9M503.0 748.9M503.4 773.9M503.1 704.5M503.0 757.2M504.2 729.0M503.6 743.1M504.1 710.3M503.8 788.6M503.9 768.0M503.0 684.8M504.0 685.7M502.8 764.2M503.8 760.2M503.6 753.9M503.8 675.8M504.1 697.9M502.7 714.5M503.4 723.2M504.2 678.3M503.0 778.4M503.1 687.8M503.5 784.9M503.3 765.9M503.7 696.6M504.0 684.9M503.8 715.2M503.1 736.5M503.9 717.0M503.2 773.1M502.8 766.3M502.9 779.0M503.9 713.3M502.9 746.7M504.0 701.3M502.9 745.0M503.7 687.9M503.0 784.4M502.8 699.2M504.1 773.1M503.8 675.7M502.8 720.3M503.0 723.4M502.9 756.7M503.2 723.7M503.9 692.7M504.2 721.8M502.9 673.3M503.7 774.2M504.0 711.4M503.5 721.5M502.8 701.4M503.9 715.2M503.1 721.6M503.2 716.6M503.8 713.6M503.5 763.1M503.2 683.7M503.5 699.3M503.8 709.8M503.0 684.9M502.7 716.2M504.0 718.1M502.9 700.7M503.9 684.1M503.4 748.9M503.5 674.1M502.8 769.0M504.2 778.3M503.5 741.5M503.5 697.8M504.1 673.5M503.1 717.7M504.2 724.5M502.9 697.9M503.6 724.7M504.0 710.8M503.7 698.1M504.2 702.1M503.8 761.3M504.1 746.4M503.5 719.8M503.1 764.2M503.0 718.6M502.7 762.5M503.5 679.1M502.8 689.2M503.1 674.1M502.7 674.7M503.3 732.2M503.5 697.2M503.0 708.9M503.1 776.8M504.0 782.4M502.9 758.6M504.3 684.3M503.9 714.5M502.7 773.1M503.7 775.0M503.2 748.5M502.9 755.4M504.2 710.9M503.9 728.7M503.7 717.3M503.8 769.8M503.7 702.4M503.1 759.4M503.8 764.5M503.0 728.8M504.2 673.3M503.0 789.0M503.3 703.5M504.0 687.3M503.1 786.0M503.0 772.7M503.5 694.8M503.3 701.7M503.2 773.4M503.6 689.0M503.8 700.3M502.8 742.5M504.3 734.6M503.5 768.0M502.9 688.1M502.9 760.7M502.7 742.0M503.7 731.0M502.9 752.8M503.9 731.5M503.9 691.4M502.9 683.4M503.2 681.1M503.7 723.0M504.2 753.2M503.8 769.6M503.4 818.9M503.2 797.1M503.6 816.9M504.1 791.6M504.0 792.4M503.5 815.0M503.1 791.2M504.2 801.6M503.2 790.4M502.7 818.4M503.3 796.7M503.1 793.6M502.9 658.2M502.9 671.5M503.3 651.9M504.1 637.3M504.1 651.6M503.5 654.9M503.5 635.8M504.2 659.0M502.9 630.5M503.4 639.0M504.1 595.3M504.1 611.9M504.1 616.8M517.2 673.5M515.2 721.8M516.4 672.1M513.9 715.6M515.5 715.8M514.0 773.5M516.5 770.9M513.1 730.7M517.2 735.4M513.9 760.8M513.3 793.3M516.6 736.7M516.6 647.1M516.8 660.4M514.6 680.8M516.8 656.3M514.4 649.6M516.6 732.9M516.7 648.7M514.6 653.4M515.2 691.4M515.5 675.4M514.6 789.0M517.3 773.2M514.3 723.0M516.5 741.4M516.6 675.0M516.6 675.6M516.1 722.8M516.8 682.8M513.8 731.6M513.8 761.8M534.1 711.6M533.2 712.6M533.2 709.2M534.9 760.1M534.4 737.4M533.5 752.4M534.5 752.3M534.2 742.1M534.2 758.0M533.7 760.9M533.1 758.0M534.6 755.9M533.3 759.0M533.1 751.4M533.6 743.6M533.9 737.9M533.3 762.3M534.5 742.8M533.5 754.4M534.3 791.3M534.4 788.5M535.1 795.7M533.0 775.7M532.9 783.1M535.0 780.9M534.6 772.2M535.1 789.5M538.3 831.6M545.7 856.5M547.9 691.7M548.4 697.4M548.6 687.8M548.3 689.5M548.5 713.0M548.5 718.0M548.5 723.0M548.5 729.0M548.5 735.0M548.5 741.0M548.5 747.0M548.5 752.0M548.5 758.0M548.5 764.0M594.5 683.0M594.5 688.0M594.5 693.0M594.5 697.0M594.5 705.5M594.5 710.0M594.5 714.0M594.5 719.0M594.5 798.0M594.5 809.0M594.5 821.6M594.8 738.0M594.9 766.6M594.3 769.6M595.0 754.4M595.1 780.8M593.9 742.0M594.2 741.9M594.5 758.0M594.8 736.0M594.8 762.2M594.3 746.4M594.0 763.9M595.0 761.4M594.2 757.3M594.5 773.4M595.0 761.4M594.5 775.3M593.9 768.0M595.0 766.7M595.1 756.5M594.2 780.8M594.1 769.6M594.6 765.5M594.1 763.2M594.8 779.9M595.1 762.9M594.9 756.3M594.2 770.5M594.7 747.6M593.8 759.2M595.2 758.9M594.9 768.3M593.9 769.9M594.1 755.4M594.9 781.7M593.9 757.8M595.0 763.1M594.9 768.8M594.7 772.1M594.9 765.1M584.0 740.0M584.0 752.0M584.0 758.6M608.6 698.0M608.6 761.0M620.0 797.0M620.0 814.0M626.0 730.0M626.0 799.0M646.0 662.0M646.0 697.0M655.0 815.4M655.0 825.3M648.9 820.4M650.1 841.4M600.7 808.6M593.3 821.6M618.0 814.8M611.9 796.9M625.4 799.4M620.6 766.4M619.6 780.4M619.0 759.4M622.0 753.6M618.8 750.8M618.9 764.0M619.6 767.3M621.5 743.9M619.9 758.6M619.1 784.4M621.6 770.8M620.4 769.8M621.3 763.9M620.7 752.9M620.6 771.0M619.4 767.3M621.6 739.5M621.8 743.9M621.0 767.9M619.8 750.9M621.3 766.1M618.7 738.7M634.1 697.4M633.1 707.9M635.0 703.8M634.5 702.7M633.6 734.6M633.0 720.4M635.0 720.8M633.4 718.6M634.5 724.8M634.2 748.4M634.2 743.5M634.9 742.9M633.4 805.2M634.9 798.3M633.1 751.5M634.8 774.8M634.2 804.1M634.7 753.8M634.4 763.9M633.4 772.1M634.6 760.2M633.0 793.9M634.3 756.4M633.9 796.1M634.4 811.9M633.2 812.1M634.6 794.6M633.8 772.3M634.9 815.1M633.7 768.9M633.5 757.3M633.7 789.8M634.3 799.6M633.3 766.3M633.1 788.9M633.5 751.7M634.0 790.8M634.5 758.9M634.7 761.0M633.8 778.5M634.8 767.2M633.5 805.4M634.9 779.7M634.7 755.3M634.8 769.6M634.3 791.1M633.7 752.3M634.3 767.4M633.2 742.5M728.6 456.5M733.3 461.6M751.2 458.9M750.2 487.7M728.6 498.0M720.0 547.6M698.4 572.3M714.2 587.1M718.3 594.3M719.3 597.4M743.0 590.2M682.3 602.6M678.2 607.7M667.9 614.9M665.8 617.0M616.5 613.5M624.7 635.5M660.7 632.4M717.3 619.0M717.3 627.2M717.3 635.5M725.5 614.9M730.7 618.0M753.3 627.2M747.1 637.5M660.7 647.7M805.0 643.3M805.0 667.2M635.2 666.7M646.7 661.7M645.0 675.7M650.0 672.4M659.0 675.7M592.4 684.0M595.7 692.2M608.9 697.9M622.0 702.0M625.3 705.3M635.2 695.5M635.2 707.0M646.7 698.0M534.0 713.6M719.8 645.5M718.1 657.0M731.3 657.0M817.2 774.8M816.5 783.2M773.7 785.7M782.0 797.2M792.3 804.6M796.3 824.0M745.0 794.7M758.1 773.3M769.6 774.2M766.3 751.1M763.0 733.0M759.0 718.2M753.2 675.4M753.2 692.7M757.3 707.5M714.7 810.6M649.3 841.5M654.7 816.8M654.7 826.7M594.9 820.5M618.4 814.3M600.4 809.4M744.3 794.6M733.2 795.8M669.9 754.0M675.6 762.5M656.8 773.0M671.1 742.4M647.6 763.4M672.7 734.5M666.3 787.1M652.9 718.0M675.7 734.0M657.8 773.3M667.4 717.8M673.9 790.1M649.1 746.7M679.1 774.1M659.5 756.1M655.9 762.3M655.6 754.5M653.6 762.2M656.1 764.8M669.5 742.4M653.3 784.4M676.8 743.3M671.4 751.0M674.3 775.5M659.7 774.7M673.9 759.6M672.3 760.4M674.1 782.4M656.3 724.1M648.1 760.0M671.5 732.7M649.8 777.7M657.8 780.9M661.1 755.4M646.1 741.0M674.4 742.4M655.0 718.9M668.6 754.7M655.7 788.0M657.2 797.6M654.5 747.6M679.4 736.9M658.4 771.1M676.5 730.7M668.9 780.5M648.8 783.1M658.9 749.4M660.2 757.9M678.4 788.4M673.7 741.9M650.9 748.6M673.4 734.9M658.0 773.9M675.9 730.7M679.8 734.2M646.5 763.3M650.0 763.2M675.1 779.7M659.5 772.8M665.1 766.3M648.5 753.8M670.5 749.0M669.0 799.0M646.9 775.9M652.9 775.8M646.8 727.0M666.5 754.6M680.0 735.7M676.2 768.5M663.1 778.2M654.0 762.4M662.1 748.9M647.2 746.1M661.0 765.9M658.5 768.3M674.0 770.3M647.3 736.2M648.1 787.6M664.7 791.4M675.5 796.5M667.5 724.2M650.2 784.0M673.0 767.1M670.3 728.2M665.5 733.2M647.3 731.4M655.8 775.6M674.2 779.3M657.8 764.0M659.7 792.9M666.8 779.2M661.9 762.3M670.4 739.3M665.1 721.8M672.8 764.1M671.6 768.9M654.7 741.2M670.3 783.5M674.9 787.4M654.6 787.0M660.4 766.3M677.2 763.1M666.3 770.3M647.9 766.1M664.5 752.4M657.8 793.4M662.3 716.9M669.7 744.0M674.8 729.0M668.0 761.2M658.4 744.7M673.6 779.8M669.8 758.2M678.6 753.9M667.2 756.2M679.7 748.2M679.4 742.7M669.1 727.2M653.2 763.8M676.5 760.2M650.0 750.7M666.5 708.7M652.8 721.2M670.1 745.3M650.8 749.2M664.4 783.3M653.1 713.0M668.8 751.2M660.1 748.4M660.2 766.6M660.5 782.9M657.4 770.6M657.4 739.1M654.9 783.8M664.8 741.9M657.8 774.3M660.5 738.4M657.9 749.5M662.7 790.1M658.4 756.3M665.1 755.2M657.4 741.7M662.5 767.8M663.0 753.4M662.9 768.8M659.5 779.0M664.0 731.9M657.0 782.8M658.0 776.5M658.1 786.5M663.8 749.5M661.1 758.0M663.0 755.4M658.5 771.7M659.1 766.1M660.3 755.5M654.1 754.5M664.0 783.3M663.0 739.8M656.6 784.3M661.1 761.9M666.1 758.3M659.4 747.7M653.4 765.0M663.9 777.0M654.5 753.5M656.4 745.3M658.1 761.6M663.5 774.4M663.5 757.1M663.1 782.0M664.0 752.6M665.0 783.6M658.0 784.8M658.1 738.2M666.6 736.7M656.7 771.5M664.1 776.7M655.9 781.3M654.8 786.9M665.1 750.3M653.7 784.4M663.4 781.8M656.1 763.0M655.5 763.8M666.5 764.4M664.2 787.0M658.4 746.3M663.4 738.3M657.7 746.5M654.8 738.8M664.4 767.4M653.3 773.8M658.6 779.6M660.8 768.9M666.5 756.0M664.7 742.5M664.8 764.6M657.2 749.6M663.6 758.7M657.8 684.3M677.2 683.7M662.3 681.8M652.2 668.9M664.2 678.3M659.4 686.5M677.7 692.6M669.9 693.3M678.9 682.8M657.5 684.9M651.3 683.4M658.2 677.0M679.0 674.1M672.3 677.2M665.6 666.7M687.4 738.0M686.4 729.5M688.5 719.7M688.7 730.5M681.1 784.9M687.9 779.0M684.1 769.1M681.9 730.9M682.8 780.0M680.6 772.6M682.2 736.2M689.3 691.5M689.2 750.0M688.2 698.9M683.2 770.3M682.0 744.5M681.4 758.5M681.8 777.7M685.5 708.2M687.1 780.4M680.5 783.9M688.9 721.9M684.1 794.0M686.9 732.3M684.9 740.9M689.4 748.6M688.5 749.9M692.0 783.5M692.7 771.5M711.7 740.9M692.1 761.6M697.3 785.4M697.3 777.0M690.1 761.8M699.1 743.3M705.8 713.5M696.8 726.2M698.2 706.8M702.3 782.0M708.9 791.3M708.3 723.1M704.5 721.2M706.1 769.0M688.3 770.6M702.8 736.5M702.5 768.0M711.7 767.6M697.7 728.2M711.3 721.6M711.7 747.7M694.9 752.0M697.0 750.8M692.5 753.0M702.3 756.1M707.9 772.7M710.1 770.9M696.3 751.2M703.9 774.3M704.1 773.2M701.7 764.9M699.7 726.6M705.9 761.2M694.0 719.3M703.8 770.6M691.8 758.9M699.8 767.3M709.4 745.8M692.7 781.8M694.5 773.6M702.0 758.2M696.3 730.0M698.3 772.0M699.6 775.2M691.2 745.8M704.8 770.5M700.7 732.8M692.5 724.1M689.9 720.5M706.4 768.9M695.9 749.1M708.3 775.4M696.8 714.1M706.2 775.0M710.5 751.5M696.6 767.9M699.0 767.3M693.5 709.4M708.8 763.5M707.3 728.7M699.3 803.3M702.0 790.1M710.0 724.5M697.0 739.9M706.2 767.7M707.2 767.3M706.3 773.1M693.2 732.2M689.8 761.8M691.4 744.6M691.6 784.9M707.0 735.6M689.1 804.0M695.5 749.3M707.6 797.2M699.8 732.8M709.9 777.2M698.2 754.9M708.7 746.1M703.7 749.5M703.6 787.8M710.7 724.2M703.1 744.0M698.8 708.3M702.0 735.1M711.2 733.3M694.4 726.3M697.2 741.5M695.2 728.8M701.7 767.0M699.2 769.2M697.2 725.8M697.5 741.3M700.2 764.1M699.0 729.0M695.0 738.6M701.2 735.3M701.3 770.2M697.8 742.1M701.1 741.7M704.0 763.7M703.3 776.8M701.5 758.2M695.0 769.6M695.3 740.2M699.2 752.7M694.8 770.4M699.2 759.4M700.4 731.7M702.7 755.2M703.2 740.0M697.2 782.8M694.9 740.9M701.4 745.1M696.0 727.8M700.8 762.8M701.8 765.6M695.7 747.0M694.3 768.3M699.0 758.6M697.7 724.6M695.0 753.1M695.1 751.5M695.6 769.3M697.6 753.5M695.0 760.6M696.4 731.7M701.6 773.9M698.8 757.2M702.8 758.4M697.1 726.0M703.6 772.8M696.5 755.7M696.2 762.9M702.0 735.8M698.9 771.0M734.2 659.9M685.5 651.4M688.2 685.6M734.4 680.9M724.2 654.6M738.5 680.0M703.5 656.8M682.1 652.7M740.7 662.6M689.9 683.4M711.8 646.3M739.3 665.7M686.4 674.6M730.0 683.7M742.3 675.4M683.2 683.5M720.2 701.1M730.6 687.0M738.7 658.5M683.8 643.9M723.0 685.1M706.1 686.7M704.8 683.1M705.2 679.9M741.1 675.7M742.4 667.1M748.5 668.5M714.7 640.9M738.1 667.9M714.4 693.5M726.0 720.3M723.7 763.8M736.4 706.2M717.4 746.0M708.6 733.0M721.4 794.5M715.2 766.9M738.7 745.2M708.3 735.3M749.5 709.3M745.9 722.0M749.2 726.6M745.7 727.1M709.3 734.5M717.8 733.2M728.7 752.3M727.3 746.8M736.8 741.3M745.5 724.9M713.9 713.6M711.4 759.0M717.6 741.2M713.9 772.6M719.3 723.3M733.5 756.6M725.0 731.4M713.7 760.5M708.2 747.3M738.8 781.9M724.2 758.0M733.4 766.8M721.7 770.0M715.9 769.3M744.0 730.7M710.7 749.0M721.3 708.0M748.2 714.7M739.6 731.6M743.3 723.5M749.0 713.4M709.7 723.8M739.7 741.5M737.2 728.9M730.4 784.9M744.5 714.3M722.1 730.9M749.4 780.0M731.8 757.2M719.9 751.0M728.6 714.4M731.8 737.1M746.6 704.5M709.7 736.3M710.1 740.4M708.8 774.8M736.6 754.5M728.3 725.9M710.4 719.4M732.1 749.4M739.3 741.8M714.7 721.6M709.0 731.8M714.9 733.9M718.7 702.6M710.5 739.6M731.1 742.9M734.8 722.5M727.9 761.4M736.7 716.3M722.1 756.9M734.4 729.1M744.5 732.1M748.2 737.3M711.8 735.9M717.6 712.8M719.1 716.4M715.9 767.3M739.1 718.6M741.7 764.6M745.5 723.0M767.1 711.4M764.1 734.6M758.2 703.2M762.4 712.3M761.0 704.7M764.1 729.0M767.7 731.3M764.2 730.7M761.0 712.4M751.8 706.4M762.4 686.7M761.9 711.5M766.4 738.7M758.6 686.7M774.9 716.2M790.6 725.1M783.8 708.9M807.9 755.2M777.2 779.6M784.1 730.3M781.9 736.4M800.7 753.3M794.2 732.0M811.2 702.7M780.1 746.6M799.7 715.7M807.5 712.8M812.4 722.2M783.0 747.1M807.0 686.5M808.4 761.1M786.7 759.9M776.6 746.9M805.2 717.0M797.4 739.6M783.7 697.3M774.8 712.7M774.5 744.7M812.4 732.5M772.4 762.0M776.0 731.4M809.8 746.3M783.2 730.8M773.6 759.1M808.4 704.0M801.3 733.5M807.3 761.3M775.7 744.1M774.1 702.8M772.2 770.8M786.2 771.6M772.9 776.0M805.0 725.9M811.6 702.3M779.4 737.6M782.2 711.0M783.6 752.2M784.2 688.2M788.8 742.5M811.3 737.2M775.7 744.2M797.6 735.8M810.9 737.4M797.4 741.4M811.4 770.7M784.2 714.7M772.1 716.9M812.8 728.3M785.0 769.9M786.0 732.6M790.9 765.0M784.0 741.9M783.6 714.8M777.9 738.5M772.8 725.8M784.3 730.8M775.7 741.8M800.3 687.8M788.3 720.2M807.4 693.7M798.3 738.3M780.3 712.8M796.0 724.6M784.6 746.6M812.2 693.2M798.2 758.8M774.0 743.4M777.7 702.3M784.1 735.1" fill="none" stroke="none" marker-start="url(#mk)" marker-mid="url(#mk)" marker-end="url(#mk)"/>
<path d="M122.4 1439.8M137.2 1452.9M142.8 1465.4M221.8 1453.3M223.5 1460.5M227.7 1485.8M242.2 1437.4M243.0 1437.4M282.7 1321.2M282.7 1346.3M282.7 1368.0M282.7 1373.0M282.7 1414.0M282.7 1419.0M282.7 1454.0M282.7 1459.0M282.7 1464.0M282.7 1469.0M282.7 1495.0M282.7 1500.0M294.2 1401.0M294.2 1406.0M294.2 1411.0M294.2 1417.0M294.2 1422.0M294.2 1427.0M294.2 1432.5M294.2 1462.0M300.8 1244.9M300.8 1337.0M300.8 1376.5M300.8 1392.0M300.8 1409.5M300.8 1429.2M300.8 1445.7M300.8 1457.0M300.8 1461.0M300.8 1465.0M300.8 1469.0M300.8 1493.0M300.8 1500.0M300.8 1508.0M300.8 1515.0M314.0 1340.3M314.0 1373.2M314.0 1388.0M314.0 1393.0M323.9 1312.3M323.9 1327.2M323.9 1338.7M323.9 1363.4M323.9 1389.7M330.5 1307.4M330.5 1361.7M343.0 1301.5M343.0 1345.3M343.0 1360.0M343.0 1368.0M343.0 1377.0M343.0 1386.4M341.2 1464.8M341.5 1444.3M340.6 1479.8M341.8 1407.9M340.5 1444.6M342.1 1465.4M342.3 1474.0M341.7 1477.6M341.0 1425.6M340.8 1427.6M342.0 1453.0M342.3 1455.5M342.3 1418.1M342.3 1439.2M341.0 1463.7M341.9 1418.9M342.1 1430.4M341.0 1433.1M352.8 1317.3M352.8 1343.6M352.8 1356.8M352.8 1362.0M352.8 1368.0M352.8 1374.0M352.8 1380.0M361.7 1274.5M361.7 1315.6M361.4 1370.5M361.8 1387.3M362.0 1372.1M362.3 1376.5M362.6 1375.0M361.2 1339.0M361.7 1344.2M362.4 1339.0M361.3 1386.3M362.0 1380.3M361.8 1349.2M361.1 1394.4M362.3 1345.7M362.7 1381.8M361.8 1400.9M362.0 1402.6M361.7 1380.5M362.2 1339.7M379.8 1445.0M380.6 1440.7M380.9 1427.3M381.0 1437.6M379.6 1465.1M380.0 1435.1M380.1 1459.2M379.8 1468.4M381.4 1392.5M380.6 1487.3M379.5 1416.1M379.9 1424.1M381.1 1437.3M380.8 1433.2M380.5 1482.9M381.3 1414.2M379.9 1462.0M380.1 1415.8M379.9 1422.5M379.8 1415.2M379.9 1416.5M380.8 1456.6M389.4 1471.3M389.2 1481.5M388.9 1472.6M390.4 1456.8M390.0 1492.4M389.3 1459.4M400.2 1384.8M399.3 1414.9M400.4 1468.9M400.8 1465.1M399.7 1470.5M399.1 1414.2M401.1 1469.1M398.9 1459.2M400.1 1459.9M399.6 1454.1M400.6 1468.4M400.0 1482.9M401.3 1452.4M401.1 1447.9M400.4 1470.9M412.0 1331.4M412.0 1338.0M412.0 1356.3M412.0 1368.0M412.0 1373.0M412.0 1378.0M412.0 1383.0M412.0 1437.7M412.0 1451.0M411.3 1388.7M411.7 1386.1M412.5 1395.6M411.6 1397.9M412.6 1403.2M412.4 1400.4M411.5 1396.0M411.4 1400.7M412.3 1388.1M411.7 1399.0M411.3 1397.9M412.0 1405.6M411.3 1386.3M411.6 1387.9M412.4 1387.9M411.8 1386.8M412.5 1426.9M412.5 1421.3M412.7 1428.9M412.1 1406.6M411.4 1408.5M411.8 1425.5M411.8 1410.4M412.5 1430.7M411.7 1411.4M412.2 1418.1M401.0 1384.5M402.0 1456.0M401.0 1473.0M402.0 1480.0M403.0 1484.0M400.6 1429.3M400.7 1431.6M400.8 1427.0M403.5 1430.6M401.7 1414.8M401.8 1434.1M400.8 1429.5M427.0 1281.5M427.0 1287.0M427.0 1293.0M427.0 1403.0M427.0 1414.0M427.0 1420.0M427.0 1426.0M428.3 1479.1M427.4 1484.6M428.4 1469.3M426.0 1472.5M427.4 1460.5M427.9 1460.8M428.3 1459.7M440.0 1431.0M446.0 1388.0M446.0 1452.6M446.0 1496.0M470.0 1496.6M439.2 1484.9M439.5 1479.2M440.6 1465.6M439.1 1480.0M439.8 1473.6M429.0 1151.0M429.0 1215.0M429.0 1222.0M429.0 1232.0M456.0 1334.7M456.0 1341.3M456.0 1358.0M456.0 1364.6M456.0 1373.0M456.0 1432.7M456.0 1439.0M456.3 1386.5M455.6 1411.8M456.2 1387.3M456.3 1394.3M456.1 1408.5M456.1 1395.5M456.2 1403.4M456.6 1404.7M455.9 1405.2M456.4 1409.4M475.0 1256.6M475.0 1268.0M475.0 1286.5M473.3 1357.6M482.0 1371.1M481.4 1403.3M487.1 1398.3M485.5 1351.5M474.0 1378.3M479.2 1354.0M472.1 1339.0M480.8 1401.1M478.5 1378.3M470.7 1346.9M474.4 1377.7M473.0 1368.4M481.7 1384.7M480.2 1392.7M482.7 1365.9M481.3 1361.3M476.7 1346.4M470.6 1355.3M488.4 1373.5M482.3 1347.9M469.1 1354.8M472.3 1341.0M469.0 1393.6M477.2 1401.0M484.9 1397.6M486.2 1364.3M476.7 1342.8M475.7 1379.1M472.8 1364.1M480.7 1374.6M476.2 1357.1M469.0 1379.1M477.5 1348.3M485.6 1360.3M471.9 1438.1M479.3 1426.3M486.2 1441.1M480.5 1417.1M475.5 1461.9M470.0 1452.7M483.5 1463.3M487.2 1432.4M473.0 1437.0M483.9 1432.8M472.7 1461.3M487.4 1410.7M470.0 1419.4M484.6 1429.4M469.0 1427.3M469.3 1444.1M472.2 1429.3M475.6 1400.2M482.1 1443.5M470.7 1459.5M482.1 1452.3M474.5 1427.6M473.5 1432.6M481.1 1426.8M475.6 1427.4M476.4 1450.5M488.8 1432.8M482.5 1439.9M469.4 1400.6M481.7 1429.2M488.6 1434.7M475.6 1444.0M489.3 1416.9M481.9 1462.1M487.0 1427.2M473.8 1419.4M472.5 1426.2M485.2 1449.7M480.6 1434.9M470.1 1409.0M485.8 1465.7M483.1 1436.9M488.7 1404.9M478.0 1426.4M489.8 1446.6M488.4 1404.1M481.5 1457.3M482.0 1416.7M472.1 1428.5M470.4 1442.8M488.4 1446.6M475.0 1440.8M478.8 1400.2M468.4 1439.2M471.0 1465.6M479.8 1429.2M490.0 1427.9M486.7 1415.9M470.2 1427.9M469.3 1435.9M474.4 1432.5M473.4 1432.9M476.0 1462.4M489.2 1428.4M472.8 1414.0M468.7 1424.8M472.5 1425.4M470.8 1439.8M478.4 1407.6M476.8 1457.5M473.3 1453.2M483.2 1440.1M486.7 1419.8M481.3 1431.6M484.3 1430.7M480.9 1430.8M487.8 1441.2M473.1 1424.8M485.7 1447.1M489.7 1450.1M479.1 1439.2M472.4 1442.5M489.7 1458.1M477.3 1454.3M473.6 1420.6M477.2 1463.2M483.3 1431.2M485.3 1444.1M468.5 1467.2M488.6 1429.0M483.0 1445.6M479.0 1439.0M487.1 1403.6M488.0 1426.1M488.4 1427.0M475.1 1436.1M489.6 1405.3M484.1 1407.2M488.9 1429.7M475.5 1408.5M470.6 1404.3M477.0 1413.0M485.4 1421.9M468.5 1410.0M489.7 1439.4M478.6 1431.8M474.2 1428.0M477.2 1452.3M472.8 1429.4M481.9 1429.2M468.3 1424.3M485.7 1429.4M468.4 1445.6M482.6 1435.4M482.7 1441.3M469.0 1414.9M470.0 1447.4M479.9 1412.3M489.5 1439.0M479.7 1444.0M475.7 1424.1M468.5 1429.5M484.3 1429.7M484.9 1427.2M477.3 1429.0M479.1 1441.1M471.9 1429.3M486.8 1418.4M488.8 1424.6M472.7 1430.7M474.0 1427.2M477.5 1422.6M482.9 1419.2M484.7 1428.1M470.0 1432.9M468.0 1441.8M473.7 1462.1M481.9 1415.2M488.3 1405.2M480.7 1438.3M469.4 1432.6M487.5 1425.8M478.2 1422.7M468.1 1428.0M483.2 1444.4M485.8 1427.0M481.2 1445.9M480.4 1429.7M473.4 1454.9M484.1 1433.6M477.7 1423.0M478.2 1419.5M477.1 1447.6M489.5 1430.3M469.6 1436.3M473.7 1448.0M481.7 1469.2M484.7 1416.7M480.9 1434.0M476.6 1441.4M470.7 1432.0M472.5 1439.7M468.9 1446.6M468.5 1440.7M485.8 1463.7M469.9 1435.9M478.2 1428.0M485.2 1429.6M473.2 1446.5M474.5 1432.0M494.6 1317.8M493.6 1273.0M495.5 1303.3M493.5 1272.1M493.4 1300.9M493.5 1295.6M494.3 1271.9M493.7 1306.8M495.3 1278.8M494.3 1308.8M495.3 1288.0M495.4 1269.6M494.8 1310.1M493.9 1265.5M493.0 1362.5M495.9 1341.7M492.1 1381.0M496.2 1385.0M492.1 1457.4M492.5 1336.0M496.4 1332.0M496.0 1419.2M496.2 1444.3M494.7 1385.1M492.7 1456.3M495.4 1470.9M496.8 1437.8M496.0 1408.8M495.5 1468.9M495.8 1368.3M495.0 1396.2M492.0 1369.0M495.1 1372.9M492.9 1344.3M494.6 1405.9M496.5 1369.9M494.8 1424.9M496.2 1449.9M496.8 1442.2M494.9 1341.4M494.6 1379.6M494.5 1434.7M494.6 1404.0M492.0 1373.5M496.8 1467.7M494.6 1412.6M495.6 1428.9M496.4 1470.9M493.7 1369.6M493.0 1356.4M495.3 1434.7M494.0 1407.0M496.5 1416.1M493.5 1388.2M494.7 1437.7M492.8 1332.2M494.4 1370.1M492.1 1371.7M492.6 1344.6M495.6 1409.3M492.4 1402.9M493.4 1336.5M492.2 1445.4M496.0 1372.8M495.3 1450.2M494.3 1372.6M494.0 1374.5M493.5 1468.8M495.1 1398.2M496.8 1383.7M492.7 1358.9M493.3 1398.6M495.8 1465.9M496.8 1417.2M495.2 1351.5M496.4 1349.2M492.8 1388.7M495.0 1420.9M493.0 1441.7M496.5 1361.0M494.5 1378.5M496.2 1399.1M494.0 1359.8M492.5 1355.9M492.2 1353.7M493.7 1415.6M496.9 1403.8M495.2 1434.5M494.9 1432.7M492.9 1356.6M496.8 1438.7M492.1 1445.5M496.8 1333.8M494.1 1455.9M492.0 1342.6M492.7 1336.1M494.0 1396.5M492.6 1362.9M493.4 1331.4M496.2 1433.5M496.5 1458.4M492.7 1389.6M494.0 1341.8M493.6 1378.5M494.0 1442.5M495.9 1465.9M495.6 1461.0M496.5 1417.5M493.7 1344.5M494.1 1364.0M492.4 1332.8M493.3 1417.6M494.2 1370.5M495.2 1438.8M493.4 1425.5M496.6 1365.3M494.5 1458.5M496.9 1415.5M495.3 1332.9M493.2 1406.0M493.5 1397.2M494.3 1441.4M493.2 1337.6M495.9 1443.6M496.7 1407.7M492.8 1462.9M493.8 1431.9M495.4 1411.4M496.5 1374.4M494.1 1457.6M496.3 1430.6M493.5 1375.8M495.7 1333.7M493.9 1342.0M494.5 1414.1M496.6 1395.2M494.1 1468.9M494.2 1336.7M496.7 1445.7M494.9 1456.0M494.1 1361.1M492.9 1408.6M494.5 1343.7M495.7 1347.5M496.6 1437.8M493.3 1457.8M492.8 1394.8M496.6 1342.9M496.7 1332.7M493.4 1352.8M496.9 1399.8M496.6 1348.2M495.5 1338.8M495.5 1391.3M492.6 1381.1M493.0 1345.1M496.4 1331.4M496.4 1360.0M495.8 1397.0M494.1 1382.5M495.0 1369.7M492.3 1371.5M495.0 1392.8M494.8 1456.4M492.0 1337.7M496.6 1407.5M493.2 1471.7M494.2 1449.4M492.3 1395.3M496.8 1388.9M493.1 1333.0M495.5 1355.9M492.6 1341.0M495.0 1464.1M492.4 1375.2M494.6 1407.2M494.0 1379.0M493.4 1379.6M495.0 1423.5M496.0 1413.9M494.0 1375.1M493.7 1366.7M496.1 1372.4M494.0 1413.2M493.0 1415.8M494.9 1397.0M496.3 1361.6M493.5 1464.2M492.0 1356.5M492.9 1356.3M496.1 1450.4M495.6 1333.5M492.1 1470.7M494.6 1408.3M496.3 1464.2M496.6 1341.6M493.8 1455.2M493.8 1347.1M493.0 1448.7M493.0 1392.7M495.8 1384.6M494.9 1455.5M492.2 1456.1M494.6 1398.7M495.4 1340.1M492.6 1361.8M492.8 1409.3M496.4 1451.1M494.5 1336.0M495.9 1395.6M494.7 1404.0M494.1 1361.8M492.8 1393.7M493.1 1335.8M495.3 1479.4M495.4 1476.0M495.3 1484.5M494.0 1487.4M494.1 1477.6M494.0 1475.0M495.4 1480.8M494.0 1483.9M495.2 1479.4M495.5 1483.1M500.1 1445.0M505.3 1329.9M508.2 1316.9M506.9 1409.6M508.5 1383.4M508.8 1319.7M506.7 1392.6M503.1 1416.6M503.3 1442.5M510.9 1386.7M509.8 1321.9M503.8 1433.1M505.8 1445.9M506.5 1301.9M511.3 1359.5M506.3 1279.6M501.5 1286.5M503.3 1317.6M508.1 1347.4M501.2 1361.0M510.1 1374.0M507.2 1408.6M511.1 1418.8M504.1 1479.6M508.8 1298.7M501.0 1360.2M506.5 1272.9M507.8 1346.2M507.1 1350.1M507.3 1304.3M548.1 1148.7M548.1 1211.3M548.1 1235.0M548.1 1240.0M548.1 1245.0M543.7 1259.4M544.9 1274.3M544.5 1259.0M545.0 1264.1M552.8 1375.8M551.7 1415.5M538.3 1368.4M538.3 1390.1M539.2 1379.4M536.8 1390.2M544.5 1318.9M537.4 1386.3M551.1 1356.4M554.6 1351.4M539.5 1386.5M538.4 1377.5M554.2 1394.7M545.6 1348.8M548.0 1379.6M556.8 1380.6M547.1 1310.7M556.0 1406.4M539.7 1342.7M547.3 1348.6M545.1 1391.0M546.0 1398.5M550.1 1354.9M541.1 1325.7M551.7 1353.2M536.4 1315.8M541.5 1343.5M551.4 1366.1M545.4 1332.8M547.4 1429.9M542.6 1363.4M548.7 1401.6M547.2 1333.3M549.0 1366.3M555.5 1371.6M545.7 1331.7M554.0 1379.0M542.6 1348.0M542.8 1376.8M550.0 1417.5M555.0 1369.7M556.4 1373.8M542.3 1337.1M556.1 1418.6M551.7 1384.3M537.5 1395.6M541.3 1402.6M552.7 1356.2M539.5 1364.6M544.6 1425.0M557.6 1323.8M556.5 1343.9M551.4 1353.4M546.1 1403.3M550.1 1319.4M547.2 1431.8M556.8 1313.8M556.4 1343.3M554.8 1396.6M554.0 1329.1M549.4 1332.2M539.8 1425.8M551.4 1368.3M546.4 1364.3M555.1 1413.7M547.0 1370.4M555.3 1344.7M549.3 1378.2M536.0 1422.9M554.2 1377.7M541.3 1320.8M543.2 1356.7M546.8 1339.3M550.2 1331.8M548.3 1382.5M552.2 1332.2M541.0 1317.2M549.7 1338.0M555.1 1305.8M536.2 1409.7M556.9 1389.2M551.5 1312.2M544.9 1398.9M538.5 1354.7M540.6 1374.5M537.5 1369.8M555.3 1347.2M551.9 1362.2M544.8 1370.5M536.5 1394.6M556.1 1366.6M545.7 1383.9M553.2 1346.8M536.7 1370.2M537.7 1305.9M546.2 1385.9M539.8 1350.1M544.4 1360.5M550.3 1322.2M537.2 1365.1M542.8 1374.9M545.9 1405.9M538.2 1328.5M542.0 1345.8M552.5 1325.2M555.1 1417.6M554.3 1390.5M548.4 1392.8M541.1 1351.2M557.2 1387.0M539.0 1371.7M545.2 1349.0M538.2 1365.8M542.7 1315.7M546.4 1335.6M543.5 1370.9M544.1 1373.5M541.8 1425.5M538.7 1320.3M536.3 1424.5M537.8 1321.3M551.6 1351.9M553.5 1369.2M545.3 1430.9M541.0 1365.8M543.4 1373.9M557.7 1401.2M555.7 1418.3M557.8 1389.5M540.8 1343.5M542.0 1384.1M554.2 1342.5M537.8 1321.7M548.6 1375.6M552.2 1355.4M538.9 1370.2M547.0 1326.7M542.6 1388.7M537.0 1337.7M540.5 1375.5M552.2 1338.9M539.5 1367.5M554.9 1337.2M539.1 1334.5M547.1 1386.0M550.2 1363.4M541.0 1343.6M550.8 1380.6M552.2 1365.9M541.6 1421.3M548.9 1365.9M540.3 1379.4M556.9 1366.7M557.7 1396.0M536.2 1354.7M554.2 1316.1M538.7 1330.2M548.3 1355.3M536.7 1397.4M544.5 1371.4M551.8 1358.6M542.1 1389.2M537.2 1324.2M538.7 1406.1M536.1 1381.8M536.9 1369.5M548.7 1328.8M547.6 1401.8M556.6 1419.3M542.9 1328.4M537.0 1384.4M557.1 1355.6M544.5 1400.8M556.5 1400.2M554.3 1378.8M549.6 1308.7M544.4 1428.8M552.3 1336.6M552.4 1339.5M553.1 1346.3M548.7 1358.1M550.9 1374.4M553.0 1390.5M553.9 1349.9M539.2 1352.1M549.3 1399.3M541.9 1379.4M552.0 1429.5M536.8 1304.9M555.5 1323.3M552.7 1361.8M539.5 1388.5M550.4 1339.4M536.8 1404.8M541.8 1407.3M548.2 1377.3M541.4 1376.0M541.5 1334.1M556.6 1316.8M554.2 1391.2M551.7 1350.0M549.3 1388.1M557.7 1388.1M553.3 1311.5M547.0 1308.9M553.0 1399.4M546.6 1417.1M543.4 1316.9M556.4 1390.5M536.1 1320.8M542.2 1371.6M551.8 1316.2M549.5 1390.5M552.4 1416.0M547.3 1397.6M552.6 1283.9M542.0 1269.8M542.7 1301.2M544.4 1298.8M541.5 1263.8M547.8 1271.5M541.7 1273.6M541.2 1263.5M551.4 1301.0M548.6 1272.1M544.2 1279.3M549.5 1300.3M539.2 1304.1M549.8 1279.6M546.6 1289.1M542.7 1289.2M538.9 1483.6M531.2 1443.5M557.5 1423.7M558.1 1452.3M550.0 1483.7M537.6 1470.2M565.0 1445.9M529.0 1445.4M545.8 1471.8M529.2 1469.7M539.9 1458.7M539.2 1458.1M557.1 1440.8M556.6 1450.7M558.3 1465.3M553.2 1479.1M527.8 1439.8M535.7 1447.4M544.0 1455.5M561.5 1428.7M541.9 1434.8M548.2 1485.4M550.1 1433.8M544.3 1462.7M543.1 1433.7M529.8 1480.1M551.5 1478.1M538.3 1467.5M552.4 1477.9M550.4 1450.3M540.1 1420.6M532.2 1478.3M555.7 1460.3M535.0 1457.4M540.4 1461.2M562.7 1426.5M528.3 1453.8M567.0 1470.8M537.6 1433.3M558.5 1475.7M534.0 1428.7M565.4 1449.7M554.4 1432.2M541.2 1448.7M565.5 1481.0M561.8 1464.7M562.3 1427.0M536.6 1429.3M551.9 1422.3M561.5 1429.0M527.5 1448.9M536.3 1440.7M533.0 1435.6M536.6 1456.6M559.1 1431.7M537.4 1429.1M565.7 1458.5M553.8 1468.9M546.9 1460.0M566.2 1459.6M558.3 1488.8M549.6 1471.6M566.9 1488.1M548.0 1469.1M566.5 1453.0M555.4 1471.0M560.0 1459.9M555.0 1487.3M541.0 1457.8M535.3 1489.3M559.2 1463.2M547.1 1437.2M550.2 1452.0M527.1 1459.7M555.4 1491.6M530.0 1354.6M530.0 1391.0M530.0 1469.0M530.0 1481.0M590.3 1224.4M581.8 1254.0M590.0 1247.0M605.0 1271.5M632.0 1266.0M577.8 1394.5M582.7 1401.9M577.1 1443.3M582.9 1451.3M582.8 1433.1M578.8 1469.8M578.5 1436.9M580.5 1396.8M580.2 1394.7M579.1 1439.4M578.3 1387.4M580.9 1394.1M579.2 1457.6M581.4 1462.9M579.9 1379.2M580.3 1435.4M580.0 1459.5M582.1 1421.6M581.7 1448.3M580.9 1421.2M591.9 1291.2M589.9 1290.9M590.6 1275.2M589.9 1291.6M591.2 1270.5M590.1 1273.1M590.7 1274.3M590.9 1265.7M590.5 1452.2M590.3 1480.2M593.9 1366.1M594.0 1421.6M588.5 1383.9M593.0 1430.4M592.8 1392.5M593.7 1390.2M591.0 1296.9M592.4 1426.9M592.4 1391.5M588.5 1412.7M590.9 1430.9M589.0 1337.4M592.3 1370.1M590.7 1347.4M590.5 1418.9M593.3 1391.6M592.9 1297.0M590.4 1349.5M590.2 1294.7M591.4 1320.2M590.1 1362.8M593.3 1475.4M588.8 1314.4M593.8 1376.5M591.2 1469.1M592.2 1332.4M589.0 1384.9M589.7 1347.4M588.7 1442.4M593.5 1311.6M592.7 1398.7M589.8 1364.5M588.1 1480.2M591.5 1344.2M591.5 1385.3M591.1 1476.1M589.9 1447.8M590.7 1413.9M589.6 1455.4M590.0 1366.3M591.6 1367.0M590.5 1477.6M588.7 1351.7M590.9 1314.5M591.7 1403.9M591.8 1440.3M591.2 1321.0M591.5 1310.9M589.6 1448.7M593.5 1324.0M589.8 1436.5M588.1 1451.9M590.7 1431.8M591.7 1358.6M592.5 1477.9M592.2 1347.0M589.0 1364.5M592.9 1342.4M588.2 1334.9M588.6 1417.4M588.6 1396.9M588.4 1363.2M589.3 1302.6M589.7 1310.6M591.7 1346.5M591.3 1483.1M593.2 1448.4M593.6 1376.4M588.2 1306.1M593.2 1465.1M593.6 1304.3M590.7 1453.7M591.5 1365.4M589.9 1423.6M593.8 1335.2M589.6 1420.5M589.4 1430.5M592.1 1347.9M591.2 1483.1M589.0 1462.3M591.8 1355.5M590.0 1325.9M590.1 1346.6M593.9 1435.3M588.3 1420.8M592.4 1467.7M589.1 1437.2M593.1 1308.2M592.2 1308.3M590.1 1394.9M588.1 1408.4M590.2 1368.1M589.8 1391.8M591.0 1423.8M588.5 1390.4M589.3 1353.9M588.2 1340.9M588.4 1482.3M590.7 1389.9M589.9 1327.4M589.4 1403.1M590.4 1398.8M592.9 1344.1M591.5 1444.4M592.5 1346.1M589.8 1397.4M589.3 1375.8M589.5 1461.1M591.1 1342.9M590.1 1367.9M589.9 1371.1M592.9 1354.5M592.4 1351.0M591.7 1359.4M593.1 1431.2M592.0 1345.4M590.2 1424.3M591.4 1339.5M593.5 1376.8M592.7 1458.9M588.4 1450.5M588.4 1357.8M588.1 1384.9M590.5 1302.9M593.7 1442.2M591.4 1342.8M591.3 1336.8M593.5 1320.6M588.7 1435.9M591.8 1404.2M592.3 1311.2M593.4 1362.1M588.8 1372.4M588.2 1364.6M592.5 1441.5M590.1 1430.2M590.5 1331.1M588.3 1423.1M591.6 1455.3M593.1 1421.8M591.4 1351.4M593.5 1385.9M590.4 1450.7M593.7 1354.9M590.2 1309.2M590.2 1439.4M590.9 1435.1M592.4 1408.5M592.6 1297.4M591.7 1453.8M592.3 1353.2M589.2 1448.5M591.0 1428.2M589.5 1352.9M588.8 1383.7M589.5 1441.9M589.5 1375.3M590.6 1467.6M592.9 1357.6M591.6 1424.3M590.5 1418.5M589.0 1454.8M591.3 1365.8M593.5 1413.1M591.5 1461.4M592.6 1475.7M593.7 1403.4M594.0 1421.0M588.7 1402.6M588.6 1466.0M590.6 1423.6M593.2 1401.0M590.4 1370.5M592.4 1469.7M588.3 1330.7M590.5 1299.4M594.0 1449.8M592.4 1467.8M592.0 1327.5M591.0 1479.6M593.3 1337.4M588.4 1408.8M588.5 1330.6M592.4 1352.0M590.2 1364.0M592.6 1408.2M592.6 1297.1M593.2 1370.4M592.2 1344.6M592.2 1333.8M593.5 1295.5M592.4 1340.0M593.8 1304.8M591.1 1401.1M592.8 1325.4M591.4 1345.5M589.7 1444.4M590.9 1342.8M590.9 1309.0M592.7 1321.8M589.3 1356.5M593.3 1406.3M592.9 1455.5M591.8 1462.6M590.4 1320.5M592.5 1367.7M592.1 1379.0M591.6 1386.3M590.6 1446.0M588.4 1317.3M590.5 1392.3M593.1 1361.5M593.7 1370.3M589.6 1481.8M588.6 1324.5M591.6 1313.9M589.2 1309.0M590.7 1417.3M593.3 1433.1M592.9 1341.7M591.1 1421.9M592.5 1472.5M592.6 1386.2M591.5 1321.2M591.3 1399.4M591.5 1436.5M591.1 1361.6M593.6 1415.8M593.2 1432.2M591.3 1344.9M591.7 1466.2M589.3 1363.8M590.8 1482.2M592.5 1344.3M589.2 1353.6M592.3 1334.3M593.8 1354.7M589.2 1442.3M590.7 1369.3M592.5 1296.8M594.0 1435.8M589.5 1431.2M588.6 1431.7M588.7 1320.8M591.4 1304.6M593.0 1346.1M590.9 1413.2M591.9 1338.4M589.7 1462.4M589.9 1414.9M589.6 1372.1M590.5 1480.3M591.5 1369.1M589.2 1351.5M593.3 1360.5M591.8 1381.9M590.9 1452.9M592.0 1327.3M590.4 1381.7M593.5 1430.2M590.7 1315.3M588.5 1391.4M588.0 1360.6M590.7 1440.2M593.6 1433.8M589.5 1344.1M590.0 1302.4M588.2 1300.6M591.9 1404.4M589.2 1433.1M588.7 1357.1M590.3 1328.8M593.4 1458.9M591.7 1322.4M591.9 1469.8M591.5 1329.6M590.0 1474.1M590.8 1332.4M614.4 1355.6M615.7 1369.2M605.5 1452.9M616.2 1432.0M614.7 1394.6M602.4 1379.7M605.1 1465.3M617.3 1314.5M613.5 1437.1M622.5 1396.0M619.9 1441.9M603.3 1372.2M610.3 1421.2M605.8 1409.9M613.2 1433.7M602.5 1445.3M621.1 1370.1M605.3 1440.7M623.5 1381.0M620.1 1361.0M622.7 1395.1M606.6 1353.6M603.4 1381.6M614.1 1480.1M616.7 1361.9M606.7 1436.9M618.3 1398.4M599.5 1430.8M604.1 1430.3M621.7 1320.3M623.6 1396.2M609.8 1367.3M617.4 1438.7M617.6 1321.5M622.3 1476.8M622.4 1437.9M620.3 1424.8M605.5 1345.8M602.1 1444.2M613.0 1457.0M605.8 1373.4M602.4 1395.2M609.7 1407.8M599.5 1432.1M623.8 1387.2M627.0 1261.0M626.4 1361.1M629.3 1457.7M626.8 1440.9M627.4 1385.6M627.0 1388.8M624.2 1404.9M627.1 1401.7M628.2 1425.5M628.2 1483.9M626.1 1422.3M624.8 1355.8M626.8 1435.9M627.7 1467.1M626.6 1412.7M628.6 1362.8M626.6 1443.7M626.1 1480.9M629.3 1409.8M628.8 1440.6M626.6 1400.1M625.1 1486.0M630.0 1405.4M627.6 1469.6M628.8 1447.1M629.2 1394.1M629.5 1438.7M630.0 1335.6M624.4 1471.3M625.7 1441.1M629.6 1450.3M650.0 1233.0M659.9 1319.1M653.6 1322.9M664.2 1343.1M653.2 1345.1M665.4 1307.4M643.8 1299.7M664.3 1305.7M662.5 1318.2M646.1 1332.9M661.4 1311.2M654.5 1324.1M664.8 1316.3M645.7 1302.0M654.7 1327.2M662.8 1338.2M663.4 1309.5M669.0 1326.9M643.6 1323.4M649.1 1331.1M640.5 1298.8M651.0 1328.7M640.9 1321.7M650.6 1333.5M657.5 1331.3M666.8 1309.7M644.8 1301.3M669.2 1339.8M648.1 1329.9M642.6 1319.0M669.9 1330.4M655.1 1341.4M645.3 1306.8M651.1 1322.3M642.3 1343.7M651.8 1345.0M641.8 1307.6M653.4 1316.8M669.2 1306.1M645.9 1347.8M654.3 1330.9M650.1 1320.5M646.9 1338.1M669.2 1320.8M642.1 1345.4M662.0 1336.4M660.9 1341.0M667.1 1320.7M642.5 1313.2M664.5 1351.9M656.8 1327.6M653.0 1321.6M648.3 1352.3M645.6 1316.6M643.2 1339.9M648.2 1318.9M647.0 1314.2M643.9 1311.7M640.5 1323.9M651.2 1348.0M647.6 1320.3M659.2 1308.2M650.8 1313.4M658.4 1331.8M662.5 1322.9M660.2 1327.5M649.1 1338.7M668.9 1321.4M664.4 1340.3M649.7 1341.1M668.6 1342.3M663.6 1330.6M657.3 1314.3M650.6 1325.7M662.5 1323.2M646.0 1334.3M644.8 1329.2M659.9 1309.0M654.8 1351.3M653.5 1317.0M664.4 1341.4M660.2 1475.6M640.0 1460.2M630.1 1471.2M680.2 1397.6M673.2 1428.3M653.8 1361.4M650.4 1381.5M643.5 1436.0M639.3 1445.7M663.6 1403.8M653.3 1486.9M670.8 1414.3M638.6 1424.2M676.6 1405.4M682.9 1399.5M640.8 1391.8M634.5 1438.3M643.1 1378.7M643.6 1377.2M651.9 1424.3M676.6 1412.8M636.9 1475.1M687.7 1471.9M628.9 1425.8M666.9 1411.1M659.2 1455.6M635.0 1439.2M644.5 1444.2M667.0 1363.8M674.4 1408.5M659.0 1386.5M659.7 1383.1M646.7 1432.6M662.3 1395.4M631.2 1472.9M649.9 1453.3M628.0 1443.5M681.9 1387.6M677.9 1365.9M690.1 1438.1M668.7 1451.3M637.6 1435.0M690.0 1432.1M665.8 1404.7M629.8 1425.3M637.8 1461.2M639.4 1398.6M652.5 1386.2M662.2 1421.1M647.6 1433.9M667.0 1457.8M684.9 1425.3M644.2 1446.4M663.7 1454.1M679.9 1468.8M669.4 1465.8M672.4 1417.4M654.8 1457.4M675.4 1393.1M645.5 1491.0M681.7 1385.8M664.7 1432.0M665.6 1437.9M649.0 1430.5M648.2 1466.2M663.9 1409.2M630.9 1449.8M639.2 1408.2M646.0 1401.5M668.2 1438.6M664.0 1433.7M688.2 1394.9M653.0 1375.4M637.4 1416.9M673.8 1432.6M652.5 1411.9M672.1 1398.8M683.9 1430.2M636.4 1390.2M688.1 1424.4M632.3 1401.9M665.6 1405.1M683.3 1437.7M651.4 1402.0M651.5 1455.8M667.2 1384.4M681.4 1400.1M662.3 1447.9M640.7 1455.7M691.4 1440.9M633.7 1472.7M629.9 1427.3M640.0 1429.7M648.3 1382.5M643.0 1458.9M652.8 1380.9M651.6 1469.5M652.8 1400.8M688.0 1412.1M684.5 1446.9M639.7 1405.1M642.4 1416.0M673.8 1471.1M659.0 1431.1M633.5 1450.0M687.1 1360.8M678.0 1438.4M647.7 1395.2M632.2 1484.1M647.3 1434.4M669.4 1394.3M683.1 1406.2M673.3 1353.0M672.0 1380.4M670.4 1402.7M641.0 1379.4M650.8 1369.8M629.8 1436.5M681.1 1380.5M644.5 1419.0M648.6 1411.6M680.3 1381.4M678.8 1431.3M638.5 1404.5M686.3 1413.6M675.0 1374.5M638.5 1408.5M672.4 1467.2M666.0 1468.1M630.7 1385.7M642.7 1435.0M630.1 1434.5M665.8 1441.9M663.7 1441.5M674.1 1349.2M631.0 1359.8M648.3 1397.8M677.1 1379.8M668.0 1425.1M635.0 1394.7M645.5 1423.5M656.8 1414.8M677.2 1464.1M643.2 1358.1M662.4 1441.9M634.5 1397.6M652.6 1407.1M660.2 1449.1M629.4 1365.2M663.0 1400.8M639.0 1436.5M659.4 1405.5M656.0 1431.4M658.1 1454.9M679.9 1364.5M653.1 1409.0M660.7 1420.2M686.9 1380.6M654.6 1421.0M631.2 1439.6M659.7 1394.4M649.3 1387.6M642.2 1381.3M658.5 1417.2M642.4 1451.8M669.7 1418.4M641.8 1422.5M657.1 1441.6M687.6 1373.2M643.0 1468.2M662.0 1397.9M685.0 1397.2M690.5 1401.5M634.8 1410.0M661.0 1430.4M676.1 1415.4M628.8 1427.5M639.0 1386.9M630.9 1403.9M691.1 1409.7M645.3 1430.7M651.2 1388.2M672.8 1458.2M649.6 1395.4M675.1 1398.6M686.4 1464.9M666.2 1473.2M651.3 1482.9M630.0 1424.5M661.6 1491.2M634.0 1429.0M687.1 1383.8M670.8 1435.8M635.5 1392.3M645.6 1452.9M675.6 1366.8M683.6 1382.5M691.3 1421.9M682.8 1420.5M632.0 1359.6M663.7 1425.3M678.0 1445.3M645.5 1421.7M682.7 1382.5M661.0 1409.9M639.8 1479.6M675.4 1416.7M682.1 1395.8M636.4 1454.5M687.1 1420.5M644.7 1400.9M634.1 1402.8M652.6 1396.7M688.2 1441.6M664.8 1391.3M629.1 1462.1M636.6 1380.2M684.0 1422.3M663.7 1427.7M650.4 1447.2M680.8 1379.6M665.9 1477.8M649.4 1406.3M667.9 1400.7M628.5 1413.5M680.1 1425.6M682.2 1404.6M638.4 1414.8M654.5 1379.3M684.7 1396.3M662.9 1399.4M637.2 1457.8M672.8 1389.8M685.3 1423.2M654.4 1402.2M668.9 1482.9M688.6 1432.5M674.0 1394.7M663.8 1412.6M680.3 1403.0M634.8 1440.3M691.7 1431.1M634.2 1405.9M684.2 1404.2M685.3 1382.0M669.5 1440.8M649.7 1415.3M647.1 1421.0M629.4 1410.1M648.1 1369.6M680.9 1377.5M674.6 1439.3M662.3 1401.1M641.6 1438.3M686.8 1468.4M691.4 1401.1M682.0 1472.7M652.7 1414.3M654.7 1399.8M665.6 1433.2M638.3 1426.5M641.8 1359.6M646.2 1389.9M636.9 1411.7M634.4 1380.8M663.5 1404.8M634.7 1411.6M652.9 1382.0M679.2 1425.8M647.9 1428.9M681.0 1433.1M660.5 1479.9M649.1 1405.8M660.1 1451.6M683.7 1426.9M637.9 1457.0M660.9 1406.5M654.7 1474.4M641.0 1435.7M638.7 1386.1M662.4 1417.5M668.7 1416.8M674.3 1420.2M671.3 1372.1M637.0 1468.8M662.6 1481.1M678.9 1398.1M646.7 1444.5M642.9 1416.6M651.6 1466.6M636.6 1428.4M664.4 1481.0M684.7 1364.1M639.1 1382.8M659.8 1406.0M671.5 1411.3M650.0 1433.6M662.2 1402.4M631.5 1355.3M636.6 1413.2M657.0 1450.7M677.0 1402.4M643.6 1379.9M657.2 1394.1M659.4 1377.2M644.3 1403.1M641.1 1474.2M672.7 1401.0M662.5 1452.9M662.7 1414.8M654.6 1473.5M666.1 1444.6M671.9 1423.1M679.5 1430.8M629.3 1388.0M671.7 1480.6M641.4 1428.3M652.7 1409.2M671.3 1461.3M663.0 1459.2M686.1 1440.3M630.8 1405.7M636.0 1391.0M670.5 1395.9M670.0 1442.3M665.2 1427.0M684.6 1394.1M629.1 1402.9M629.8 1396.6M691.0 1365.7M640.1 1366.3M652.3 1403.7M631.2 1415.3M634.4 1448.4M654.7 1421.1M681.0 1419.2M663.1 1405.8M652.9 1350.7M672.7 1443.4M628.4 1397.2M673.3 1381.5M669.5 1393.6M687.7 1403.5M673.7 1409.7M659.6 1407.9M643.0 1443.8M641.7 1429.1M641.5 1413.8M629.8 1412.1M668.9 1416.7M643.4 1395.8M648.8 1405.0M678.4 1396.6M638.7 1438.0M656.8 1439.5M662.5 1362.4M637.1 1391.8M679.6 1435.8M646.6 1419.1M650.6 1452.0M652.4 1429.8M645.0 1342.0M670.0 1437.8M679.8 1438.0M679.2 1434.0M685.1 1419.3M677.4 1430.4M640.8 1439.3M637.6 1387.0M630.4 1470.7M651.2 1369.2M686.9 1379.9M669.4 1389.8M670.3 1455.1M664.9 1430.8M654.8 1450.5M659.8 1391.5M643.7 1448.6M669.8 1358.3M689.8 1467.5M664.8 1432.2M640.7 1422.3M629.4 1413.0M680.8 1484.5M642.9 1370.7M679.5 1460.6M646.9 1387.5M684.9 1425.1M629.8 1371.8M686.0 1400.4M687.6 1463.3M677.2 1409.4M634.1 1449.4M631.4 1378.9M659.0 1375.9M643.9 1348.1M682.6 1440.0M675.1 1401.6M646.5 1470.1M683.5 1487.9M677.8 1440.6M642.1 1403.7M644.9 1421.8M674.4 1426.6M649.0 1409.7M691.5 1376.9M629.9 1384.6M653.8 1456.1M660.5 1470.9M631.2 1435.4M669.0 1469.6M669.1 1355.9M635.0 1436.7M655.3 1364.8M662.8 1443.1M683.8 1394.5M689.4 1408.1M658.4 1395.4M645.2 1446.9M679.9 1438.3M637.1 1486.1M683.5 1487.0M637.3 1496.3M661.1 1486.7M649.1 1497.9M629.8 1488.6M650.0 1489.0M685.4 1482.1M655.6 1497.2M689.9 1499.2M649.2 1491.0M644.4 1491.1M642.6 1491.2M662.5 1487.3M660.4 1490.5M662.0 1481.8M671.2 1482.7M640.5 1493.1M682.5 1480.6M686.5 1490.1M636.7 1488.0M680.5 1494.7M642.3 1489.2M663.7 1493.3M670.3 1485.6M660.9 1490.1M680.5 1499.0M663.2 1491.9M664.8 1495.4M659.8 1488.3M674.9 1487.8M629.1 1498.2M681.9 1484.2M651.7 1495.1M636.0 1488.4M654.4 1486.9M659.4 1489.4M686.3 1483.9M672.6 1492.8M655.9 1495.9M695.2 1423.0M684.8 1404.1M685.3 1446.0M695.0 1441.2M684.8 1423.8M687.4 1376.9M681.7 1424.8M695.8 1455.7M687.6 1469.7M682.2 1410.0M682.6 1381.9M688.2 1392.1M693.6 1472.8M693.2 1430.6M680.3 1398.2M690.6 1388.6M695.3 1392.4M682.6 1426.5M697.4 1347.9M693.6 1439.4M684.3 1458.0M692.5 1382.9M680.1 1409.5M681.8 1390.6M696.7 1383.8M688.0 1438.2M697.1 1362.0M683.0 1407.1M685.8 1480.9M685.0 1439.1M692.3 1437.5M697.2 1397.6M680.9 1347.5M690.5 1421.6M696.7 1381.7M692.8 1466.2M690.5 1416.0M687.1 1364.8M681.0 1383.9M688.5 1455.7M697.6 1388.4M684.2 1425.3M697.4 1424.7M689.8 1465.1M690.0 1375.9M683.2 1383.4M687.9 1357.3M684.4 1438.3M682.7 1376.1M688.8 1414.6M682.4 1468.4M695.3 1407.7M694.4 1353.6M691.2 1393.7M694.4 1416.4M685.3 1454.3M696.7 1396.2M695.1 1350.1M687.4 1410.6M694.0 1397.1M694.4 1376.1M681.4 1394.4M690.5 1421.3M694.2 1448.9M685.1 1403.0M687.2 1352.9M697.0 1348.4M689.9 1432.8M694.1 1355.7M688.6 1434.4M686.8 1419.4M697.3 1407.0M685.8 1356.4M683.1 1387.5M697.2 1386.5M690.3 1429.1M681.1 1483.8M683.2 1379.5M694.8 1464.1M690.6 1450.9M682.3 1407.3M684.2 1366.4M692.9 1402.9M685.9 1458.5M691.8 1400.0M688.7 1429.0M683.2 1368.7M681.9 1393.7M687.5 1446.0M689.8 1365.2M721.2 1345.8M695.2 1389.3M713.3 1331.3M702.2 1360.6M697.8 1363.3M727.8 1355.7M720.0 1420.2M708.2 1389.5M716.3 1367.4M704.0 1399.4M690.6 1366.2M697.9 1399.0M721.2 1406.8M703.9 1377.3M695.6 1352.9M696.8 1344.0M702.0 1354.0M697.4 1368.6M695.3 1372.8M704.5 1375.8M708.2 1358.5M723.6 1388.1M719.4 1363.6M699.8 1403.0M692.5 1358.5M704.3 1395.4M724.3 1364.4M724.0 1394.0M699.4 1373.7M709.5 1407.3M694.1 1373.6M708.1 1365.6M721.6 1418.7M697.8 1387.6M702.9 1376.3M718.1 1405.4M716.3 1385.5M714.1 1355.4M706.7 1366.4M726.0 1381.6M691.4 1382.9M719.2 1410.2M697.4 1355.7M725.7 1359.1M718.9 1395.4M703.0 1391.6M710.7 1406.3M709.0 1353.1M713.9 1369.2M692.9 1410.9M709.2 1357.2M726.0 1397.2M711.9 1361.0M706.7 1357.6M706.8 1356.7M726.9 1370.1M708.3 1360.6M693.4 1405.6M703.3 1363.8M712.1 1363.7M697.1 1352.9M691.2 1362.7M715.4 1406.7M702.3 1364.4M699.2 1386.5M712.3 1427.9M713.4 1355.7M718.3 1377.4M698.2 1364.0M725.9 1397.1M701.2 1378.1M721.8 1355.4M717.3 1348.5M715.0 1341.3M682.6 1403.0M718.9 1385.7M726.4 1380.3M717.0 1357.0M697.4 1395.7M706.1 1387.3M707.8 1383.5M722.3 1376.7M704.5 1405.0M692.4 1341.2M709.7 1392.6M724.9 1345.1M713.4 1357.6M719.5 1374.8M708.5 1388.7M725.4 1337.3M715.4 1338.0M681.5 1379.9M701.1 1361.4M681.6 1397.3M685.8 1347.2M682.0 1397.3M710.7 1334.1M713.3 1395.7M708.8 1356.6M709.5 1402.2M685.4 1383.4M713.7 1374.6M702.3 1414.5M706.1 1335.7M722.0 1377.8M711.2 1397.2M690.5 1377.7M724.9 1391.4M709.6 1395.5M714.1 1344.1M694.4 1381.5M703.0 1349.4M717.8 1368.8M694.0 1405.0M689.0 1430.7M711.4 1407.7M717.5 1370.2M707.8 1392.7M695.0 1342.4M702.3 1387.8M692.5 1380.2M723.7 1414.4M681.8 1391.1M711.3 1362.1M720.2 1359.3M705.8 1391.2M703.6 1356.8M711.0 1384.6M686.9 1391.9M700.0 1349.0M698.5 1336.8M708.4 1363.2M681.7 1367.2M686.3 1375.0M725.9 1403.6M711.9 1378.5M689.7 1397.7M693.9 1362.2M701.8 1405.2M713.9 1385.7M726.8 1356.8M725.1 1384.2M715.2 1418.1M688.4 1359.1M690.8 1376.2M726.6 1365.0M714.5 1386.4M725.9 1406.8M712.9 1427.5M719.7 1387.9M717.0 1424.6M682.3 1390.0M720.0 1373.7M693.1 1365.0M727.9 1411.0M703.5 1407.2M688.2 1398.9M725.8 1355.8M699.2 1381.6M696.1 1416.5M701.7 1404.4M713.5 1385.6M716.9 1364.1M713.0 1419.0M702.5 1376.6M695.2 1361.2M681.6 1396.9M702.1 1372.1M702.0 1410.2M709.4 1333.0M720.1 1348.3M692.4 1390.1M705.2 1362.7M700.9 1376.3M694.6 1364.6M692.3 1390.2M695.4 1378.0M698.5 1399.6M693.0 1364.9M704.3 1362.2M713.0 1389.9M722.9 1342.4M728.2 1375.2M715.8 1418.8M708.3 1342.6M712.9 1382.9M709.0 1397.1M703.3 1344.2M721.1 1426.3M688.7 1347.4M759.7 1423.5M736.6 1468.6M758.4 1409.1M752.2 1414.9M732.7 1407.9M742.9 1447.1M730.1 1433.7M732.1 1469.2M777.8 1423.6M735.2 1441.0M756.0 1426.6M726.9 1436.3M774.1 1394.8M766.3 1420.4M763.1 1421.1M757.0 1433.8M752.4 1418.5M725.1 1421.4M769.7 1458.9M736.2 1443.1M748.7 1443.7M728.5 1412.2M759.5 1414.8M760.1 1432.1M775.7 1401.5M734.6 1424.0M740.2 1413.6M749.2 1434.2M723.5 1408.2M733.4 1434.9M741.2 1440.4M757.3 1419.1M734.1 1402.5M762.2 1430.8M763.6 1434.6M725.2 1422.1M768.3 1451.7M745.0 1441.5M738.6 1434.3M758.4 1408.3M764.5 1423.7M723.0 1434.7M765.3 1407.0M734.9 1468.3M752.1 1391.7M774.8 1395.9M746.6 1402.5M736.8 1424.5M771.6 1450.5M762.5 1421.1M761.5 1415.4M775.2 1439.7M774.0 1410.7M745.1 1445.0M753.6 1406.6M759.6 1436.3M772.4 1431.8M768.1 1416.6M766.9 1405.7M764.7 1444.0M777.9 1421.3M741.4 1466.2M739.0 1400.5M770.9 1402.2M763.9 1433.3M753.0 1462.3M734.1 1378.3M772.0 1395.1M772.8 1381.1M774.5 1445.1M753.5 1445.7M776.5 1403.1M731.4 1453.9M741.8 1423.2M744.1 1399.1M766.0 1451.5M749.3 1447.9M723.0 1424.0M734.3 1442.8M761.4 1418.4M723.6 1408.8M725.3 1456.3M755.0 1419.0M736.1 1421.6M741.0 1442.9M755.6 1415.2M737.0 1423.7M744.6 1406.7M731.0 1426.6M726.4 1452.9M777.5 1425.0M760.4 1428.7M775.7 1429.0M725.8 1434.7M742.3 1434.7M759.7 1449.4M776.5 1438.7M743.9 1402.4M730.4 1473.4M747.7 1450.0M732.4 1440.7M744.3 1417.5M767.3 1423.6M737.3 1447.3M738.8 1464.5M776.1 1429.3M749.3 1435.8M762.2 1391.8M731.3 1451.7M732.6 1438.2M769.9 1424.1M730.8 1468.9M728.3 1459.5M765.8 1414.3M759.6 1424.3M759.9 1458.1M732.4 1417.2M744.5 1418.0M766.0 1409.9M725.5 1454.3M779.8 1428.1M747.7 1414.6M777.5 1438.3M770.6 1454.1M733.7 1433.7M742.7 1407.9M735.1 1433.9M756.2 1423.5M769.9 1425.3M778.7 1445.7M725.2 1422.7M769.7 1426.5M722.5 1403.7M739.5 1395.4M758.7 1423.6M758.5 1416.4M763.4 1443.8M777.3 1447.2M745.5 1452.0M729.4 1442.7M733.9 1398.6M779.2 1422.8M778.3 1403.1M734.3 1441.2M733.7 1454.0M733.8 1429.5M778.8 1403.8M733.0 1448.5M762.1 1441.2M725.8 1426.5M765.9 1444.2M744.2 1428.7M751.7 1408.6M750.9 1431.4M736.9 1445.5M767.7 1455.8M774.2 1420.3M760.2 1453.4M772.7 1438.0M745.6 1445.5M733.0 1431.8M759.2 1450.3M754.0 1446.4M738.9 1404.1M779.1 1430.1M741.0 1397.7M730.0 1427.6M723.3 1420.3M742.8 1451.1M744.0 1402.3M769.0 1427.7M761.5 1431.6M726.7 1408.6M771.1 1456.5M759.5 1400.5M735.5 1408.8M725.0 1425.6M758.8 1460.5M767.6 1467.2M772.4 1466.2M767.5 1428.0M738.6 1425.8M729.5 1430.4M750.2 1404.9M757.0 1405.7M777.7 1407.7M756.1 1444.1M759.7 1418.0M779.5 1418.5M726.4 1436.9M721.4 1347.8M744.1 1321.9M774.4 1369.8M744.9 1372.2M722.7 1362.1M774.3 1332.9M743.1 1363.7M736.2 1375.6M743.2 1324.9M739.7 1315.2M732.4 1333.5M770.9 1381.8M757.4 1370.1M728.2 1381.6M740.8 1310.1M735.2 1329.6M775.4 1343.9M762.9 1354.1M743.9 1356.5M733.6 1378.5M726.6 1330.4M729.5 1352.0M741.7 1351.4M759.3 1352.7M737.9 1307.5M737.9 1365.3M760.1 1342.4M749.2 1373.1M733.5 1308.9M760.6 1363.5M739.0 1360.2M776.6 1356.9M758.8 1355.0M743.8 1356.3M770.3 1345.5M758.5 1336.9M770.7 1378.2M736.2 1363.7M749.6 1330.7M771.9 1364.3M727.6 1374.9M775.4 1343.4M768.1 1363.7M734.1 1332.1M737.2 1359.0M768.7 1369.3M730.3 1369.6M775.4 1350.5M734.7 1346.3M754.8 1375.5M768.5 1483.7M742.7 1459.8M738.5 1476.9M742.1 1467.9M733.1 1477.6M745.3 1460.6M736.9 1462.8M778.8 1475.6M772.5 1464.0M736.0 1465.9M735.4 1482.0M758.2 1481.9M755.2 1456.6M757.5 1481.6M730.8 1466.5M773.5 1457.2M775.3 1469.6M765.0 1464.3M734.1 1480.6M753.7 1470.9M733.0 1462.7M760.8 1456.2M747.6 1465.8M779.5 1455.8M762.2 1460.9M781.7 1466.1M780.7 1472.5M777.3 1479.4M765.0 1464.0M780.5 1468.6M753.1 1301.0M744.3 1289.4M688.3 1305.3M739.9 1317.8M712.0 1268.7M734.3 1274.7M681.3 1321.7M723.1 1278.4M742.0 1300.3M738.3 1273.2M688.6 1256.9M706.8 1287.1M726.7 1307.4M695.3 1313.8M733.0 1288.2M682.2 1267.2M737.9 1251.8M697.8 1312.6M689.8 1305.9M750.7 1285.5M718.3 1283.9M703.5 1291.0M732.7 1303.4M722.6 1328.8M713.5 1294.0M718.1 1309.8M715.2 1307.1M698.9 1295.9M722.5 1302.0M718.0 1314.5M718.9 1331.7M750.1 1321.7M721.3 1281.6M686.6 1311.4M714.7 1272.4M680.5 1290.7M682.4 1294.3M738.7 1263.1M687.0 1304.7M682.7 1294.0M703.2 1069.9M714.0 1084.7M710.3 1120.8M725.7 1125.7M745.8 1123.9M730.0 1141.2M703.8 1154.7M721.1 1157.2M679.5 1177.2M648.0 1200.4M717.1 1185.0M709.4 1192.0M698.0 1201.6M711.6 1209.0M721.7 1206.5M720.2 1215.8M726.4 1225.0M732.5 1228.8M646.2 1234.3M698.6 1234.3M711.9 1231.2M661.6 1240.5M652.3 1245.1M669.3 1246.6M661.0 1252.8M717.1 1242.0M723.3 1251.3M731.0 1251.3M698.6 1253.4M675.5 1262.7M649.3 1262.7M655.4 1265.2M710.3 1259.0M714.0 1268.2M723.3 1262.0M753.5 1265.8M679.5 1275.3M649.3 1276.6M726.4 1271.0M726.4 1280.0M726.4 1288.0M726.4 1296.0M748.0 1286.7M768.9 1294.4M769.5 1304.6M793.3 1370.6M791.1 1394.0M788.0 1418.7M785.0 1459.5M793.3 1471.8M758.7 1495.8M711.6 1486.3M734.0 1484.1M741.8 1484.1M711.6 1461.0M678.6 1485.7M652.3 1493.4M815.1 1342.2M815.1 1360.2M815.1 1388.3M815.1 1392.0M815.1 1395.7M814.8 1431.9M815.0 1420.7M815.7 1418.6M814.9 1446.3M814.4 1412.9M815.0 1431.3M815.3 1440.5M814.7 1474.3M815.8 1431.8M816.1 1417.3M814.6 1422.5M816.1 1425.2M815.0 1424.6M815.1 1425.0M814.7 1452.2M815.6 1422.7M814.5 1424.9M815.4 1470.0M815.3 1445.8M815.4 1426.1M814.6 1433.3M815.1 1411.2M814.4 1451.7M815.5 1470.4M815.2 1431.7M815.5 1419.7M830.8 1411.4M831.5 1411.4M793.3 1370.8M792.0 1393.8M783.7 1386.5M788.3 1418.8M787.4 1460.3M792.9 1462.2M793.3 1472.3M807.7 1428.9M807.7 1447.4M807.7 1454.8M808.6 1469.5M843.7 1219.4M844.6 1234.2M846.5 1244.3M866.8 1248.9M846.5 1258.7M856.6 1264.6M865.3 1276.1M836.3 1287.7M841.8 1296.0M848.3 1290.8M861.2 1293.2M855.7 1304.3M863.1 1302.5M859.8 1314.1M842.4 1315.4M866.8 1322.2M849.8 1327.0M850.2 1334.8M833.5 1334.8M837.2 1335.7M839.1 1344.0M839.1 1347.7M859.4 1347.7M859.4 1356.9M859.4 1366.2M862.2 1367.1M844.6 1363.4M853.8 1365.2M834.5 1367.1M833.5 1373.5M843.7 1382.8M848.3 1385.5M853.8 1389.2M859.4 1392.0M862.2 1392.9" fill="none" stroke="none" marker-start="url(#mk)" marker-mid="url(#mk)" marker-end="url(#mk)"/>
<line x1="120.1" y1="791.7" x2="839.6" y2="761.9" stroke="#c21528" stroke-width="3.4"/>
<line x1="131.9" y1="1456.9" x2="864" y2="1419.5" stroke="#c21528" stroke-width="3.4"/>
<line x1="293" y1="448" x2="292.7" y2="1566" stroke="#5d6e95" stroke-width="1.9"/>
<line x1="524.9" y1="447" x2="525.1" y2="1560" stroke="#5d6e95" stroke-width="1.9"/>
<line x1="750.2" y1="430.5" x2="755.4" y2="1559" stroke="#5d6e95" stroke-width="1.9"/>
<text x="20.8" y="20.8" font-size="29.5" fill="#000" >A</text>
<text x="546.5" y="20.6" font-size="29.5" fill="#000" >B</text>
<text x="18.6" y="349.3" font-size="30" fill="#000" >C</text>
<text x="19.4" y="1004.3" font-size="29.5" fill="#000" >D</text>
<text x="123.6" y="380.8" font-size="29.3" fill="#000" >Males</text>
<text x="109.5" y="1061.7" font-size="29.3" fill="#000" >Females</text>
<text x="258.5" y="1584.4" font-size="29.7" fill="#000" >1990</text>
<text x="491.7" y="1584.4" font-size="29.7" fill="#000" >2000</text>
<text x="721.3" y="1584.4" font-size="29.7" fill="#000" >2010</text>
<text x="329.6" y="1618.3" font-size="28.6" fill="#000" xml:space="preserve" textLength="456" lengthAdjust="spacingAndGlyphs">Date &#160;(months since January 1982)</text>
<text x="0" y="0" font-size="29" fill="#000" transform="translate(22,651.8) rotate(-90)" textLength="220" lengthAdjust="spacingAndGlyphs">Body weight (kg)</text>
<text x="0" y="0" font-size="29" fill="#000" transform="translate(22,1353.2) rotate(-90)" textLength="220.5" lengthAdjust="spacingAndGlyphs">Body weight (kg)</text>
</svg>
</body></html>
